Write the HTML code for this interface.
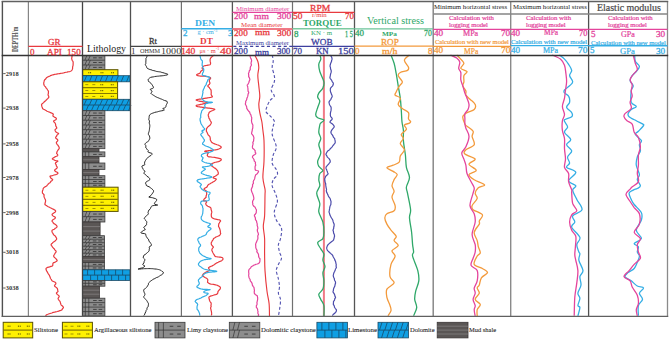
<!DOCTYPE html>
<html><head><meta charset="utf-8"><style>
html,body{margin:0;padding:0;background:#fff;}
svg{display:block;font-family:"Liberation Serif",serif;}
</style></head><body>
<svg width="669" height="340" viewBox="0 0 669 340" xmlns="http://www.w3.org/2000/svg">
<rect width="669" height="340" fill="#fff"/>
<rect x="82.6" y="55.5" width="22.30000000000001" height="14.200000000000003" fill="#8d8d8d" stroke="#3a3a3a" stroke-width="0.8"/>
<line x1="82.6" y1="60.2" x2="104.9" y2="60.2" stroke="#3a3a3a" stroke-width="0.8"/>
<line x1="82.6" y1="65.0" x2="104.9" y2="65.0" stroke="#3a3a3a" stroke-width="0.8"/>
<line x1="86.9" y1="55.5" x2="84.9" y2="60.2" stroke="#333" stroke-width="0.7"/>
<line x1="90.3" y1="55.5" x2="88.3" y2="60.2" stroke="#333" stroke-width="0.7"/>
<rect x="93.1" y="57.4" width="3.6" height="0.9" fill="#3a3a3a"/>
<rect x="98.6" y="57.4" width="3.6" height="0.9" fill="#3a3a3a"/>
<line x1="86.9" y1="60.2" x2="84.9" y2="65.0" stroke="#333" stroke-width="0.7"/>
<line x1="90.3" y1="60.2" x2="88.3" y2="65.0" stroke="#333" stroke-width="0.7"/>
<rect x="93.1" y="62.1" width="3.6" height="0.9" fill="#3a3a3a"/>
<rect x="98.6" y="62.1" width="3.6" height="0.9" fill="#3a3a3a"/>
<line x1="86.9" y1="65.0" x2="84.9" y2="69.7" stroke="#333" stroke-width="0.7"/>
<line x1="90.3" y1="65.0" x2="88.3" y2="69.7" stroke="#333" stroke-width="0.7"/>
<rect x="93.1" y="66.9" width="3.6" height="0.9" fill="#3a3a3a"/>
<rect x="98.6" y="66.9" width="3.6" height="0.9" fill="#3a3a3a"/>
<rect x="82.6" y="69.7" width="35.30000000000001" height="6.0" fill="#fff100" stroke="#5a5200" stroke-width="1.0"/>
<rect x="88.2" y="72.1" width="1.1" height="1.2" fill="#6b6200"/>
<rect x="90.0" y="72.1" width="1.1" height="1.2" fill="#6b6200"/>
<rect x="100.5" y="72.1" width="1.1" height="1.2" fill="#6b6200"/>
<rect x="102.3" y="72.1" width="1.1" height="1.2" fill="#6b6200"/>
<rect x="111.1" y="72.1" width="1.1" height="1.2" fill="#6b6200"/>
<rect x="112.9" y="72.1" width="1.1" height="1.2" fill="#6b6200"/>
<rect x="82.6" y="75.7" width="47.400000000000006" height="6.099999999999994" fill="#0f9fe3" stroke="#1a4a66" stroke-width="0.8"/>
<line x1="86.6" y1="75.7" x2="84.1" y2="81.8" stroke="#174a6a" stroke-width="0.8"/>
<line x1="91.9" y1="75.7" x2="89.4" y2="81.8" stroke="#174a6a" stroke-width="0.8"/>
<line x1="97.2" y1="75.7" x2="94.7" y2="81.8" stroke="#174a6a" stroke-width="0.8"/>
<line x1="102.5" y1="75.7" x2="100.0" y2="81.8" stroke="#174a6a" stroke-width="0.8"/>
<line x1="107.8" y1="75.7" x2="105.3" y2="81.8" stroke="#174a6a" stroke-width="0.8"/>
<line x1="113.1" y1="75.7" x2="110.6" y2="81.8" stroke="#174a6a" stroke-width="0.8"/>
<line x1="118.4" y1="75.7" x2="115.9" y2="81.8" stroke="#174a6a" stroke-width="0.8"/>
<line x1="123.7" y1="75.7" x2="121.2" y2="81.8" stroke="#174a6a" stroke-width="0.8"/>
<line x1="129.0" y1="75.7" x2="126.5" y2="81.8" stroke="#174a6a" stroke-width="0.8"/>
<rect x="82.6" y="81.8" width="35.0" height="17.5" fill="#fff100" stroke="#5a5200" stroke-width="1.0"/>
<line x1="82.6" y1="87.6" x2="117.6" y2="87.6" stroke="#857800" stroke-width="1.2"/>
<line x1="82.6" y1="93.5" x2="117.6" y2="93.5" stroke="#857800" stroke-width="1.2"/>
<rect x="85.3" y="84.3" width="3" height="0.8" fill="#8a7d00"/>
<rect x="92.3" y="84.3" width="3" height="0.8" fill="#8a7d00"/>
<rect x="100.3" y="84.1" width="1.1" height="1.2" fill="#6b6200"/>
<rect x="102.1" y="84.1" width="1.1" height="1.2" fill="#6b6200"/>
<rect x="110.8" y="84.1" width="1.1" height="1.2" fill="#6b6200"/>
<rect x="112.6" y="84.1" width="1.1" height="1.2" fill="#6b6200"/>
<rect x="85.3" y="90.1" width="3" height="0.8" fill="#8a7d00"/>
<rect x="92.3" y="90.1" width="3" height="0.8" fill="#8a7d00"/>
<rect x="100.3" y="90.0" width="1.1" height="1.2" fill="#6b6200"/>
<rect x="102.1" y="90.0" width="1.1" height="1.2" fill="#6b6200"/>
<rect x="110.8" y="90.0" width="1.1" height="1.2" fill="#6b6200"/>
<rect x="112.6" y="90.0" width="1.1" height="1.2" fill="#6b6200"/>
<rect x="85.3" y="96.0" width="3" height="0.8" fill="#8a7d00"/>
<rect x="92.3" y="96.0" width="3" height="0.8" fill="#8a7d00"/>
<rect x="100.3" y="95.8" width="1.1" height="1.2" fill="#6b6200"/>
<rect x="102.1" y="95.8" width="1.1" height="1.2" fill="#6b6200"/>
<rect x="110.8" y="95.8" width="1.1" height="1.2" fill="#6b6200"/>
<rect x="112.6" y="95.8" width="1.1" height="1.2" fill="#6b6200"/>
<rect x="82.6" y="99.3" width="47.400000000000006" height="11.400000000000006" fill="#0f9fe3" stroke="#1a4a66" stroke-width="0.8"/>
<line x1="82.6" y1="105.0" x2="130" y2="105.0" stroke="#1a4a66" stroke-width="0.8"/>
<line x1="86.6" y1="99.3" x2="84.1" y2="105.0" stroke="#174a6a" stroke-width="0.8"/>
<line x1="91.9" y1="99.3" x2="89.4" y2="105.0" stroke="#174a6a" stroke-width="0.8"/>
<line x1="97.2" y1="99.3" x2="94.7" y2="105.0" stroke="#174a6a" stroke-width="0.8"/>
<line x1="102.5" y1="99.3" x2="100.0" y2="105.0" stroke="#174a6a" stroke-width="0.8"/>
<line x1="107.8" y1="99.3" x2="105.3" y2="105.0" stroke="#174a6a" stroke-width="0.8"/>
<line x1="113.1" y1="99.3" x2="110.6" y2="105.0" stroke="#174a6a" stroke-width="0.8"/>
<line x1="118.4" y1="99.3" x2="115.9" y2="105.0" stroke="#174a6a" stroke-width="0.8"/>
<line x1="123.7" y1="99.3" x2="121.2" y2="105.0" stroke="#174a6a" stroke-width="0.8"/>
<line x1="129.0" y1="99.3" x2="126.5" y2="105.0" stroke="#174a6a" stroke-width="0.8"/>
<line x1="88.6" y1="105.0" x2="86.1" y2="110.7" stroke="#174a6a" stroke-width="0.8"/>
<line x1="93.9" y1="105.0" x2="91.4" y2="110.7" stroke="#174a6a" stroke-width="0.8"/>
<line x1="99.2" y1="105.0" x2="96.7" y2="110.7" stroke="#174a6a" stroke-width="0.8"/>
<line x1="104.5" y1="105.0" x2="102.0" y2="110.7" stroke="#174a6a" stroke-width="0.8"/>
<line x1="109.8" y1="105.0" x2="107.3" y2="110.7" stroke="#174a6a" stroke-width="0.8"/>
<line x1="115.1" y1="105.0" x2="112.6" y2="110.7" stroke="#174a6a" stroke-width="0.8"/>
<line x1="120.4" y1="105.0" x2="117.9" y2="110.7" stroke="#174a6a" stroke-width="0.8"/>
<line x1="125.7" y1="105.0" x2="123.2" y2="110.7" stroke="#174a6a" stroke-width="0.8"/>
<line x1="131.0" y1="105.0" x2="128.5" y2="110.7" stroke="#174a6a" stroke-width="0.8"/>
<rect x="82.6" y="110.7" width="22.30000000000001" height="37.999999999999986" fill="#8d8d8d" stroke="#3a3a3a" stroke-width="0.8"/>
<line x1="82.6" y1="115.5" x2="104.9" y2="115.5" stroke="#3a3a3a" stroke-width="0.8"/>
<line x1="82.6" y1="120.2" x2="104.9" y2="120.2" stroke="#3a3a3a" stroke-width="0.8"/>
<line x1="82.6" y1="125.0" x2="104.9" y2="125.0" stroke="#3a3a3a" stroke-width="0.8"/>
<line x1="82.6" y1="129.7" x2="104.9" y2="129.7" stroke="#3a3a3a" stroke-width="0.8"/>
<line x1="82.6" y1="134.4" x2="104.9" y2="134.4" stroke="#3a3a3a" stroke-width="0.8"/>
<line x1="82.6" y1="139.2" x2="104.9" y2="139.2" stroke="#3a3a3a" stroke-width="0.8"/>
<line x1="82.6" y1="143.9" x2="104.9" y2="143.9" stroke="#3a3a3a" stroke-width="0.8"/>
<line x1="86.9" y1="110.7" x2="84.9" y2="115.5" stroke="#333" stroke-width="0.7"/>
<line x1="90.3" y1="110.7" x2="88.3" y2="115.5" stroke="#333" stroke-width="0.7"/>
<rect x="93.1" y="112.6" width="3.6" height="0.9" fill="#3a3a3a"/>
<rect x="98.6" y="112.6" width="3.6" height="0.9" fill="#3a3a3a"/>
<line x1="86.9" y1="115.5" x2="84.9" y2="120.2" stroke="#333" stroke-width="0.7"/>
<line x1="90.3" y1="115.5" x2="88.3" y2="120.2" stroke="#333" stroke-width="0.7"/>
<rect x="93.1" y="117.4" width="3.6" height="0.9" fill="#3a3a3a"/>
<rect x="98.6" y="117.4" width="3.6" height="0.9" fill="#3a3a3a"/>
<line x1="86.9" y1="120.2" x2="84.9" y2="125.0" stroke="#333" stroke-width="0.7"/>
<line x1="90.3" y1="120.2" x2="88.3" y2="125.0" stroke="#333" stroke-width="0.7"/>
<rect x="93.1" y="122.1" width="3.6" height="0.9" fill="#3a3a3a"/>
<rect x="98.6" y="122.1" width="3.6" height="0.9" fill="#3a3a3a"/>
<line x1="86.9" y1="125.0" x2="84.9" y2="129.7" stroke="#333" stroke-width="0.7"/>
<line x1="90.3" y1="125.0" x2="88.3" y2="129.7" stroke="#333" stroke-width="0.7"/>
<rect x="93.1" y="126.9" width="3.6" height="0.9" fill="#3a3a3a"/>
<rect x="98.6" y="126.9" width="3.6" height="0.9" fill="#3a3a3a"/>
<line x1="86.9" y1="129.7" x2="84.9" y2="134.4" stroke="#333" stroke-width="0.7"/>
<line x1="90.3" y1="129.7" x2="88.3" y2="134.4" stroke="#333" stroke-width="0.7"/>
<rect x="93.1" y="131.6" width="3.6" height="0.9" fill="#3a3a3a"/>
<rect x="98.6" y="131.6" width="3.6" height="0.9" fill="#3a3a3a"/>
<line x1="86.9" y1="134.4" x2="84.9" y2="139.2" stroke="#333" stroke-width="0.7"/>
<line x1="90.3" y1="134.4" x2="88.3" y2="139.2" stroke="#333" stroke-width="0.7"/>
<rect x="93.1" y="136.4" width="3.6" height="0.9" fill="#3a3a3a"/>
<rect x="98.6" y="136.4" width="3.6" height="0.9" fill="#3a3a3a"/>
<line x1="86.9" y1="139.2" x2="84.9" y2="143.9" stroke="#333" stroke-width="0.7"/>
<line x1="90.3" y1="139.2" x2="88.3" y2="143.9" stroke="#333" stroke-width="0.7"/>
<rect x="93.1" y="141.1" width="3.6" height="0.9" fill="#3a3a3a"/>
<rect x="98.6" y="141.1" width="3.6" height="0.9" fill="#3a3a3a"/>
<line x1="86.9" y1="143.9" x2="84.9" y2="148.7" stroke="#333" stroke-width="0.7"/>
<line x1="90.3" y1="143.9" x2="88.3" y2="148.7" stroke="#333" stroke-width="0.7"/>
<rect x="93.1" y="145.9" width="3.6" height="0.9" fill="#3a3a3a"/>
<rect x="98.6" y="145.9" width="3.6" height="0.9" fill="#3a3a3a"/>
<rect x="82.6" y="148.7" width="16.400000000000006" height="3.200000000000017" fill="#5a5655" stroke="#3a3636" stroke-width="0.8"/>
<rect x="82.6" y="151.9" width="22.30000000000001" height="4.799999999999983" fill="#8d8d8d" stroke="#3a3a3a" stroke-width="0.8"/>
<line x1="85.3" y1="151.9" x2="85.3" y2="156.7" stroke="#333" stroke-width="0.7"/>
<line x1="88.8" y1="151.9" x2="88.8" y2="156.7" stroke="#333" stroke-width="0.7"/>
<rect x="93.1" y="153.9" width="3.6" height="0.9" fill="#3a3a3a"/>
<rect x="98.6" y="153.9" width="3.6" height="0.9" fill="#3a3a3a"/>
<rect x="82.6" y="156.7" width="16.400000000000006" height="6.300000000000011" fill="#5a5655" stroke="#3a3636" stroke-width="0.8"/>
<line x1="82.6" y1="159.8" x2="99" y2="159.8" stroke="#8a8686" stroke-width="0.7"/>
<rect x="82.6" y="163" width="22.30000000000001" height="6.400000000000006" fill="#8d8d8d" stroke="#3a3a3a" stroke-width="0.8"/>
<line x1="85.3" y1="163.0" x2="85.3" y2="169.4" stroke="#333" stroke-width="0.7"/>
<line x1="88.8" y1="163.0" x2="88.8" y2="169.4" stroke="#333" stroke-width="0.7"/>
<rect x="93.1" y="165.8" width="3.6" height="0.9" fill="#3a3a3a"/>
<rect x="98.6" y="165.8" width="3.6" height="0.9" fill="#3a3a3a"/>
<rect x="82.6" y="169.4" width="16.400000000000006" height="6.299999999999983" fill="#5a5655" stroke="#3a3636" stroke-width="0.8"/>
<line x1="82.6" y1="172.6" x2="99" y2="172.6" stroke="#8a8686" stroke-width="0.7"/>
<rect x="82.6" y="175.7" width="22.30000000000001" height="11.5" fill="#8d8d8d" stroke="#3a3a3a" stroke-width="0.8"/>
<line x1="82.6" y1="179.5" x2="104.9" y2="179.5" stroke="#3a3a3a" stroke-width="0.8"/>
<line x1="82.6" y1="183.4" x2="104.9" y2="183.4" stroke="#3a3a3a" stroke-width="0.8"/>
<line x1="85.3" y1="175.7" x2="85.3" y2="179.5" stroke="#333" stroke-width="0.7"/>
<line x1="88.8" y1="175.7" x2="88.8" y2="179.5" stroke="#333" stroke-width="0.7"/>
<rect x="93.1" y="177.2" width="3.6" height="0.9" fill="#3a3a3a"/>
<rect x="98.6" y="177.2" width="3.6" height="0.9" fill="#3a3a3a"/>
<line x1="85.3" y1="179.5" x2="85.3" y2="183.4" stroke="#333" stroke-width="0.7"/>
<line x1="88.8" y1="179.5" x2="88.8" y2="183.4" stroke="#333" stroke-width="0.7"/>
<rect x="93.1" y="181.0" width="3.6" height="0.9" fill="#3a3a3a"/>
<rect x="98.6" y="181.0" width="3.6" height="0.9" fill="#3a3a3a"/>
<line x1="85.3" y1="183.4" x2="85.3" y2="187.2" stroke="#333" stroke-width="0.7"/>
<line x1="88.8" y1="183.4" x2="88.8" y2="187.2" stroke="#333" stroke-width="0.7"/>
<rect x="93.1" y="184.8" width="3.6" height="0.9" fill="#3a3a3a"/>
<rect x="98.6" y="184.8" width="3.6" height="0.9" fill="#3a3a3a"/>
<rect x="82.6" y="187.2" width="35.5" height="24.200000000000017" fill="#fff100" stroke="#5a5200" stroke-width="1.0"/>
<line x1="82.6" y1="193.2" x2="118.1" y2="193.2" stroke="#857800" stroke-width="1.2"/>
<line x1="82.6" y1="199.3" x2="118.1" y2="199.3" stroke="#857800" stroke-width="1.2"/>
<line x1="82.6" y1="205.3" x2="118.1" y2="205.3" stroke="#857800" stroke-width="1.2"/>
<rect x="85.4" y="189.8" width="3" height="0.8" fill="#8a7d00"/>
<rect x="92.5" y="189.8" width="3" height="0.8" fill="#8a7d00"/>
<rect x="100.6" y="189.6" width="1.1" height="1.2" fill="#6b6200"/>
<rect x="102.4" y="189.6" width="1.1" height="1.2" fill="#6b6200"/>
<rect x="111.3" y="189.6" width="1.1" height="1.2" fill="#6b6200"/>
<rect x="113.1" y="189.6" width="1.1" height="1.2" fill="#6b6200"/>
<rect x="85.4" y="195.9" width="3" height="0.8" fill="#8a7d00"/>
<rect x="92.5" y="195.9" width="3" height="0.8" fill="#8a7d00"/>
<rect x="100.6" y="195.7" width="1.1" height="1.2" fill="#6b6200"/>
<rect x="102.4" y="195.7" width="1.1" height="1.2" fill="#6b6200"/>
<rect x="111.3" y="195.7" width="1.1" height="1.2" fill="#6b6200"/>
<rect x="113.1" y="195.7" width="1.1" height="1.2" fill="#6b6200"/>
<rect x="85.4" y="201.9" width="3" height="0.8" fill="#8a7d00"/>
<rect x="92.5" y="201.9" width="3" height="0.8" fill="#8a7d00"/>
<rect x="100.6" y="201.7" width="1.1" height="1.2" fill="#6b6200"/>
<rect x="102.4" y="201.7" width="1.1" height="1.2" fill="#6b6200"/>
<rect x="111.3" y="201.7" width="1.1" height="1.2" fill="#6b6200"/>
<rect x="113.1" y="201.7" width="1.1" height="1.2" fill="#6b6200"/>
<rect x="85.4" y="208.0" width="3" height="0.8" fill="#8a7d00"/>
<rect x="92.5" y="208.0" width="3" height="0.8" fill="#8a7d00"/>
<rect x="100.6" y="207.8" width="1.1" height="1.2" fill="#6b6200"/>
<rect x="102.4" y="207.8" width="1.1" height="1.2" fill="#6b6200"/>
<rect x="111.3" y="207.8" width="1.1" height="1.2" fill="#6b6200"/>
<rect x="113.1" y="207.8" width="1.1" height="1.2" fill="#6b6200"/>
<rect x="82.6" y="211.4" width="22.30000000000001" height="10.599999999999994" fill="#8d8d8d" stroke="#3a3a3a" stroke-width="0.8"/>
<line x1="82.6" y1="216.7" x2="104.9" y2="216.7" stroke="#3a3a3a" stroke-width="0.8"/>
<line x1="86.9" y1="211.4" x2="84.9" y2="216.7" stroke="#333" stroke-width="0.7"/>
<line x1="90.3" y1="211.4" x2="88.3" y2="216.7" stroke="#333" stroke-width="0.7"/>
<rect x="93.1" y="213.6" width="3.6" height="0.9" fill="#3a3a3a"/>
<rect x="98.6" y="213.6" width="3.6" height="0.9" fill="#3a3a3a"/>
<line x1="86.9" y1="216.7" x2="84.9" y2="222.0" stroke="#333" stroke-width="0.7"/>
<line x1="90.3" y1="216.7" x2="88.3" y2="222.0" stroke="#333" stroke-width="0.7"/>
<rect x="93.1" y="218.9" width="3.6" height="0.9" fill="#3a3a3a"/>
<rect x="98.6" y="218.9" width="3.6" height="0.9" fill="#3a3a3a"/>
<rect x="82.6" y="222" width="17.5" height="13.699999999999989" fill="#5a5655" stroke="#3a3636" stroke-width="0.8"/>
<line x1="82.6" y1="226.6" x2="100.1" y2="226.6" stroke="#8a8686" stroke-width="0.7"/>
<line x1="82.6" y1="231.1" x2="100.1" y2="231.1" stroke="#8a8686" stroke-width="0.7"/>
<rect x="82.6" y="235.7" width="21.900000000000006" height="21.0" fill="#8d8d8d" stroke="#3a3a3a" stroke-width="0.8"/>
<line x1="82.6" y1="239.2" x2="104.5" y2="239.2" stroke="#3a3a3a" stroke-width="0.8"/>
<line x1="82.6" y1="242.7" x2="104.5" y2="242.7" stroke="#3a3a3a" stroke-width="0.8"/>
<line x1="82.6" y1="246.2" x2="104.5" y2="246.2" stroke="#3a3a3a" stroke-width="0.8"/>
<line x1="82.6" y1="249.7" x2="104.5" y2="249.7" stroke="#3a3a3a" stroke-width="0.8"/>
<line x1="82.6" y1="253.2" x2="104.5" y2="253.2" stroke="#3a3a3a" stroke-width="0.8"/>
<line x1="86.9" y1="235.7" x2="84.9" y2="239.2" stroke="#333" stroke-width="0.7"/>
<line x1="90.2" y1="235.7" x2="88.2" y2="239.2" stroke="#333" stroke-width="0.7"/>
<rect x="92.8" y="237.0" width="3.6" height="0.9" fill="#3a3a3a"/>
<rect x="98.3" y="237.0" width="3.6" height="0.9" fill="#3a3a3a"/>
<line x1="86.9" y1="239.2" x2="84.9" y2="242.7" stroke="#333" stroke-width="0.7"/>
<line x1="90.2" y1="239.2" x2="88.2" y2="242.7" stroke="#333" stroke-width="0.7"/>
<rect x="92.8" y="240.5" width="3.6" height="0.9" fill="#3a3a3a"/>
<rect x="98.3" y="240.5" width="3.6" height="0.9" fill="#3a3a3a"/>
<line x1="86.9" y1="242.7" x2="84.9" y2="246.2" stroke="#333" stroke-width="0.7"/>
<line x1="90.2" y1="242.7" x2="88.2" y2="246.2" stroke="#333" stroke-width="0.7"/>
<rect x="92.8" y="244.0" width="3.6" height="0.9" fill="#3a3a3a"/>
<rect x="98.3" y="244.0" width="3.6" height="0.9" fill="#3a3a3a"/>
<line x1="86.9" y1="246.2" x2="84.9" y2="249.7" stroke="#333" stroke-width="0.7"/>
<line x1="90.2" y1="246.2" x2="88.2" y2="249.7" stroke="#333" stroke-width="0.7"/>
<rect x="92.8" y="247.5" width="3.6" height="0.9" fill="#3a3a3a"/>
<rect x="98.3" y="247.5" width="3.6" height="0.9" fill="#3a3a3a"/>
<line x1="86.9" y1="249.7" x2="84.9" y2="253.2" stroke="#333" stroke-width="0.7"/>
<line x1="90.2" y1="249.7" x2="88.2" y2="253.2" stroke="#333" stroke-width="0.7"/>
<rect x="92.8" y="251.0" width="3.6" height="0.9" fill="#3a3a3a"/>
<rect x="98.3" y="251.0" width="3.6" height="0.9" fill="#3a3a3a"/>
<line x1="86.9" y1="253.2" x2="84.9" y2="256.7" stroke="#333" stroke-width="0.7"/>
<line x1="90.2" y1="253.2" x2="88.2" y2="256.7" stroke="#333" stroke-width="0.7"/>
<rect x="92.8" y="254.5" width="3.6" height="0.9" fill="#3a3a3a"/>
<rect x="98.3" y="254.5" width="3.6" height="0.9" fill="#3a3a3a"/>
<rect x="82.6" y="256.7" width="21.900000000000006" height="5.800000000000011" fill="#5a5655" stroke="#3a3636" stroke-width="0.8"/>
<line x1="82.6" y1="259.6" x2="104.5" y2="259.6" stroke="#8a8686" stroke-width="0.7"/>
<rect x="82.6" y="262.5" width="21.900000000000006" height="7.300000000000011" fill="#8d8d8d" stroke="#3a3a3a" stroke-width="0.8"/>
<line x1="82.6" y1="266.1" x2="104.5" y2="266.1" stroke="#3a3a3a" stroke-width="0.8"/>
<line x1="85.2" y1="262.5" x2="85.2" y2="266.1" stroke="#333" stroke-width="0.7"/>
<line x1="88.7" y1="262.5" x2="88.7" y2="266.1" stroke="#333" stroke-width="0.7"/>
<rect x="92.8" y="263.9" width="3.6" height="0.9" fill="#3a3a3a"/>
<rect x="98.3" y="263.9" width="3.6" height="0.9" fill="#3a3a3a"/>
<line x1="85.2" y1="266.1" x2="85.2" y2="269.8" stroke="#333" stroke-width="0.7"/>
<line x1="88.7" y1="266.1" x2="88.7" y2="269.8" stroke="#333" stroke-width="0.7"/>
<rect x="92.8" y="267.5" width="3.6" height="0.9" fill="#3a3a3a"/>
<rect x="98.3" y="267.5" width="3.6" height="0.9" fill="#3a3a3a"/>
<rect x="82.6" y="269.8" width="47.400000000000006" height="10.599999999999966" fill="#0f9fe3" stroke="#1a4a66" stroke-width="0.8"/>
<line x1="82.6" y1="275.1" x2="130" y2="275.1" stroke="#1a4a66" stroke-width="0.8"/>
<line x1="87.6" y1="269.8" x2="87.6" y2="275.1" stroke="#174a6a" stroke-width="0.8"/>
<line x1="94.6" y1="269.8" x2="94.6" y2="275.1" stroke="#174a6a" stroke-width="0.8"/>
<line x1="101.6" y1="269.8" x2="101.6" y2="275.1" stroke="#174a6a" stroke-width="0.8"/>
<line x1="108.6" y1="269.8" x2="108.6" y2="275.1" stroke="#174a6a" stroke-width="0.8"/>
<line x1="115.6" y1="269.8" x2="115.6" y2="275.1" stroke="#174a6a" stroke-width="0.8"/>
<line x1="122.6" y1="269.8" x2="122.6" y2="275.1" stroke="#174a6a" stroke-width="0.8"/>
<line x1="90.6" y1="275.1" x2="90.6" y2="280.4" stroke="#174a6a" stroke-width="0.8"/>
<line x1="97.6" y1="275.1" x2="97.6" y2="280.4" stroke="#174a6a" stroke-width="0.8"/>
<line x1="104.6" y1="275.1" x2="104.6" y2="280.4" stroke="#174a6a" stroke-width="0.8"/>
<line x1="111.6" y1="275.1" x2="111.6" y2="280.4" stroke="#174a6a" stroke-width="0.8"/>
<line x1="118.6" y1="275.1" x2="118.6" y2="280.4" stroke="#174a6a" stroke-width="0.8"/>
<line x1="125.6" y1="275.1" x2="125.6" y2="280.4" stroke="#174a6a" stroke-width="0.8"/>
<rect x="82.6" y="280.4" width="22.30000000000001" height="5.800000000000011" fill="#8d8d8d" stroke="#3a3a3a" stroke-width="0.8"/>
<line x1="82.6" y1="283.3" x2="104.9" y2="283.3" stroke="#3a3a3a" stroke-width="0.8"/>
<line x1="85.3" y1="280.4" x2="85.3" y2="283.3" stroke="#333" stroke-width="0.7"/>
<line x1="88.8" y1="280.4" x2="88.8" y2="283.3" stroke="#333" stroke-width="0.7"/>
<rect x="93.1" y="281.4" width="3.6" height="0.9" fill="#3a3a3a"/>
<rect x="98.6" y="281.4" width="3.6" height="0.9" fill="#3a3a3a"/>
<line x1="85.3" y1="283.3" x2="85.3" y2="286.2" stroke="#333" stroke-width="0.7"/>
<line x1="88.8" y1="283.3" x2="88.8" y2="286.2" stroke="#333" stroke-width="0.7"/>
<rect x="93.1" y="284.3" width="3.6" height="0.9" fill="#3a3a3a"/>
<rect x="98.6" y="284.3" width="3.6" height="0.9" fill="#3a3a3a"/>
<rect x="82.6" y="286.2" width="16.900000000000006" height="12.0" fill="#5a5655" stroke="#3a3636" stroke-width="0.8"/>
<line x1="82.6" y1="290.2" x2="99.5" y2="290.2" stroke="#8a8686" stroke-width="0.7"/>
<line x1="82.6" y1="294.2" x2="99.5" y2="294.2" stroke="#8a8686" stroke-width="0.7"/>
<rect x="82.6" y="298.2" width="22.30000000000001" height="17.80000000000001" fill="#8d8d8d" stroke="#3a3a3a" stroke-width="0.8"/>
<line x1="82.6" y1="302.6" x2="104.9" y2="302.6" stroke="#3a3a3a" stroke-width="0.8"/>
<line x1="82.6" y1="307.1" x2="104.9" y2="307.1" stroke="#3a3a3a" stroke-width="0.8"/>
<line x1="82.6" y1="311.6" x2="104.9" y2="311.6" stroke="#3a3a3a" stroke-width="0.8"/>
<line x1="85.3" y1="298.2" x2="85.3" y2="302.6" stroke="#333" stroke-width="0.7"/>
<line x1="88.8" y1="298.2" x2="88.8" y2="302.6" stroke="#333" stroke-width="0.7"/>
<rect x="93.1" y="300.0" width="3.6" height="0.9" fill="#3a3a3a"/>
<rect x="98.6" y="300.0" width="3.6" height="0.9" fill="#3a3a3a"/>
<line x1="85.3" y1="302.6" x2="85.3" y2="307.1" stroke="#333" stroke-width="0.7"/>
<line x1="88.8" y1="302.6" x2="88.8" y2="307.1" stroke="#333" stroke-width="0.7"/>
<rect x="93.1" y="304.4" width="3.6" height="0.9" fill="#3a3a3a"/>
<rect x="98.6" y="304.4" width="3.6" height="0.9" fill="#3a3a3a"/>
<line x1="85.3" y1="307.1" x2="85.3" y2="311.6" stroke="#333" stroke-width="0.7"/>
<line x1="88.8" y1="307.1" x2="88.8" y2="311.6" stroke="#333" stroke-width="0.7"/>
<rect x="93.1" y="308.9" width="3.6" height="0.9" fill="#3a3a3a"/>
<rect x="98.6" y="308.9" width="3.6" height="0.9" fill="#3a3a3a"/>
<line x1="85.3" y1="311.6" x2="85.3" y2="316.0" stroke="#333" stroke-width="0.7"/>
<line x1="88.8" y1="311.6" x2="88.8" y2="316.0" stroke="#333" stroke-width="0.7"/>
<rect x="93.1" y="313.3" width="3.6" height="0.9" fill="#3a3a3a"/>
<rect x="98.6" y="313.3" width="3.6" height="0.9" fill="#3a3a3a"/>
<path d="M71.20,55.00 L71.31,55.49 L71.93,56.13 L72.10,56.89 L71.75,57.74 L71.69,58.65 L71.93,59.60 L72.27,60.56 L73.00,61.49 L73.16,62.38 L73.15,63.20 L73.14,64.07 L73.09,64.97 L72.97,65.86 L72.65,66.75 L72.58,67.60 L72.61,68.41 L72.41,69.16 L72.10,69.83 L71.71,70.40 L71.16,70.90 L70.54,71.27 L69.75,71.54 L68.70,71.74 L67.83,71.91 L67.08,72.07 L66.05,72.25 L64.90,72.50 L64.38,72.65 L63.82,72.80 L63.12,72.96 L62.47,73.11 L61.62,73.26 L60.70,73.41 L59.67,73.57 L58.49,73.73 L57.53,73.89 L56.58,74.06 L55.63,74.24 L54.69,74.42 L53.81,74.60 L52.93,74.80 L52.23,75.00 L51.28,75.32 L50.51,75.64 L49.94,75.98 L49.09,76.33 L48.25,76.69 L47.56,77.06 L46.95,77.45 L46.41,77.85 L46.15,78.27 L45.88,78.70 L45.08,79.46 L44.41,80.26 L44.12,81.09 L43.97,81.97 L43.76,82.87 L43.73,83.80 L43.85,84.52 L44.13,85.27 L44.78,86.03 L45.48,86.81 L45.92,87.60 L46.44,88.40 L47.19,89.20 L47.66,90.00 L48.24,90.83 L48.49,91.72 L48.38,92.63 L48.35,93.54 L48.06,94.41 L48.13,95.21 L48.56,95.92 L48.79,96.50 L48.75,97.51 L48.20,98.10 L47.68,98.65 L46.98,99.30 L46.32,99.99 L45.66,100.68 L44.91,101.30 L44.14,101.98 L43.48,102.62 L42.83,103.22 L42.08,103.80 L41.49,104.86 L41.78,105.90 L41.93,106.67 L42.30,107.48 L42.55,108.30 L42.73,108.80 L43.62,109.31 L44.76,109.82 L45.57,110.32 L46.41,110.80 L47.05,111.18 L47.85,111.55 L48.82,111.91 L49.73,112.25 L50.52,112.58 L51.22,112.90 L52.57,113.47 L53.17,113.98 L53.32,114.50 L52.96,115.35 L53.04,116.20 L53.69,116.60 L54.25,117.00 L54.98,117.40 L55.86,117.80 L56.40,118.65 L56.09,119.50 L55.42,120.02 L54.20,120.53 L53.56,121.10 L53.81,121.73 L54.45,122.41 L55.16,123.20 L55.60,124.18 L55.67,125.26 L55.87,126.20 L56.50,127.17 L56.82,128.00 L56.23,128.63 L55.46,129.27 L54.94,129.90 L55.22,130.80 L55.82,131.70 L56.25,132.31 L57.73,132.93 L58.60,133.60 L57.88,134.38 L56.85,135.22 L56.67,136.00 L55.91,136.94 L55.51,137.90 L56.46,138.69 L57.53,139.55 L57.83,140.40 L57.45,141.18 L56.63,141.95 L56.31,142.80 L56.58,143.54 L57.16,144.34 L57.85,145.15 L58.32,145.90 L58.87,146.76 L59.20,147.54 L59.21,148.40 L58.76,149.16 L58.06,149.99 L57.56,150.80 L57.13,151.50 L56.82,152.47 L56.58,153.30 L57.07,153.93 L57.61,154.57 L57.78,155.20 L57.59,155.56 L57.31,155.92 L56.41,156.28 L55.44,156.64 L54.79,157.00 L53.97,157.64 L52.75,158.29 L52.29,158.90 L53.00,159.46 L54.32,159.97 L54.81,160.40 L55.92,160.63 L57.50,160.76 L57.94,161.10 L57.40,161.57 L56.47,162.16 L55.57,162.85 L55.37,163.60 L55.89,164.27 L56.25,165.03 L56.28,165.81 L56.89,166.59 L57.29,167.30 L56.97,168.10 L56.33,168.84 L55.05,169.56 L54.54,170.30 L54.91,170.93 L55.73,171.59 L57.22,172.24 L57.94,172.86 L57.94,173.40 L57.43,173.87 L56.77,174.28 L55.80,174.65 L54.12,174.98 L53.24,175.30 L52.35,175.60 L51.04,175.82 L50.15,176.08 L49.94,176.50 L50.35,177.14 L50.72,177.93 L51.79,178.78 L52.74,179.60 L52.17,180.39 L50.93,181.19 L50.62,181.97 L50.06,182.70 L48.97,183.36 L48.27,183.96 L47.81,184.55 L47.22,185.20 L46.92,185.77 L46.05,186.36 L44.73,186.97 L43.97,187.59 L43.38,188.20 L43.09,188.95 L42.98,189.71 L42.65,190.48 L42.39,191.30 L42.39,192.15 L42.46,193.03 L43.30,193.97 L44.16,195.00 L43.95,195.77 L44.02,196.60 L44.32,197.46 L44.68,198.34 L45.20,199.19 L45.47,200.00 L45.63,200.92 L45.43,201.81 L45.23,202.68 L45.02,203.51 L44.83,204.30 L45.17,204.83 L45.92,205.34 L46.77,205.82 L47.40,206.29 L48.23,206.75 L49.41,207.22 L50.31,207.70 L51.35,208.19 L52.27,208.67 L53.18,209.16 L54.16,209.64 L54.96,210.13 L55.44,210.61 L55.66,211.10 L55.51,211.67 L54.98,212.23 L54.15,212.80 L53.16,213.37 L52.42,213.93 L52.03,214.50 L52.22,215.07 L52.72,215.63 L53.43,216.19 L54.56,216.76 L55.29,217.33 L55.39,217.90 L54.96,218.46 L54.22,219.00 L53.20,219.54 L52.53,220.11 L52.10,220.72 L52.09,221.40 L52.54,221.90 L53.10,222.44 L53.28,223.01 L53.92,223.60 L55.11,224.20 L55.87,224.80 L56.39,225.39 L56.85,225.96 L57.07,226.50 L56.92,227.08 L56.28,227.65 L55.29,228.21 L54.82,228.76 L54.30,229.29 L52.98,229.81 L52.16,230.31 L51.92,230.80 L52.01,231.69 L52.33,232.50 L52.90,233.31 L53.27,234.20 L53.83,234.89 L54.92,235.63 L55.50,236.41 L55.92,237.17 L56.40,237.88 L56.66,238.50 L56.55,239.43 L55.88,240.17 L55.04,241.00 L54.42,241.51 L53.54,242.06 L52.80,242.64 L52.32,243.23 L51.57,243.82 L51.11,244.40 L51.23,245.27 L51.95,246.15 L52.57,247.03 L53.24,247.90 L53.81,248.48 L54.45,249.06 L54.62,249.64 L55.13,250.21 L55.79,250.76 L56.14,251.30 L55.99,252.07 L55.37,252.81 L54.89,253.51 L54.59,254.20 L54.08,255.02 L53.65,255.79 L53.82,256.70 L54.33,257.26 L55.02,257.88 L55.82,258.54 L56.29,259.20 L56.83,259.83 L57.16,260.40 L56.91,261.00 L56.19,261.55 L55.24,262.07 L53.87,262.58 L53.11,263.10 L52.79,264.03 L52.86,264.97 L52.60,265.80 L51.98,266.10 L51.01,266.38 L50.17,266.63 L49.71,266.87 L48.75,267.10 L47.66,267.35 L47.03,267.60 L46.01,268.44 L46.04,269.50 L46.26,270.11 L46.62,270.82 L47.08,271.58 L47.53,272.35 L47.92,273.10 L48.32,273.82 L48.88,274.54 L49.30,275.25 L49.62,275.97 L49.96,276.70 L50.21,277.45 L50.44,278.22 L50.91,278.99 L51.46,279.72 L51.77,280.40 L52.21,281.00 L53.48,281.55 L54.68,282.07 L55.48,282.58 L55.96,283.10 L55.69,284.00 L54.92,284.90 L54.48,285.80 L54.92,286.47 L55.79,287.14 L56.69,287.82 L57.38,288.50 L57.56,289.46 L57.76,290.44 L58.04,291.30 L57.56,291.94 L56.78,292.47 L56.40,293.10 L56.63,293.71 L57.36,294.39 L58.17,295.10 L58.92,295.80 L59.25,296.66 L58.54,297.53 L58.07,298.50 L58.32,299.18 L58.74,299.91 L59.31,300.68 L60.01,301.45 L60.32,302.20 L60.48,302.96 L60.74,303.73 L60.89,304.49 L61.37,305.20 L62.14,305.80 L62.93,306.50 L63.26,306.99 L63.44,307.60 L62.97,308.25 L62.31,309.00 L62.04,309.75 L60.82,310.40 L59.91,310.67 L59.22,310.91 L58.58,311.13 L57.85,311.33 L57.37,311.53 L56.56,311.74 L55.56,311.96 L54.56,312.20 L53.32,312.44 L52.43,312.70 L51.86,312.97 L51.00,313.24 L50.09,313.52 L49.26,313.79 L48.53,314.05 L47.81,314.29 L47.11,314.50 L45.95,315.29 L45.50,315.80" fill="none" stroke="#e83a3f" stroke-width="1.2" stroke-linejoin="round"/>
<path d="M147.20,55.00 L146.95,55.64 L146.92,56.58 L146.51,57.60 L145.95,58.40 L145.96,59.26 L145.98,60.14 L145.85,61.00 L145.87,61.88 L145.82,62.78 L145.80,63.62 L145.33,64.30 L145.44,65.03 L145.83,65.60 L146.47,66.60 L146.76,67.60 L147.21,68.25 L148.61,68.90 L148.74,69.16 L149.76,69.44 L150.82,69.74 L151.94,70.06 L152.41,70.36 L153.80,70.64 L154.93,70.90 L155.69,71.09 L155.82,71.26 L156.45,71.41 L157.28,71.55 L158.53,71.69 L159.60,71.84 L160.70,72.01 L161.06,72.20 L161.80,72.42 L162.77,72.67 L163.93,72.93 L164.60,73.20 L165.72,73.47 L166.66,73.73 L167.38,73.98 L167.76,74.20 L167.78,74.58 L167.05,74.92 L165.66,75.22 L164.23,75.50 L163.56,75.61 L162.94,75.70 L162.13,75.79 L161.07,75.88 L159.87,75.96 L159.38,76.04 L158.67,76.13 L157.55,76.21 L156.78,76.30 L155.92,76.40 L154.59,76.56 L154.28,76.72 L153.25,76.88 L152.07,77.06 L150.92,77.26 L150.39,77.50 L149.70,77.94 L149.09,78.44 L148.49,78.98 L148.20,79.50 L148.29,80.50 L148.56,81.50 L149.43,81.99 L150.12,82.46 L150.74,82.96 L151.03,83.50 L151.75,84.34 L152.36,85.26 L152.88,86.10 L153.42,87.18 L153.22,88.10 L152.49,88.56 L151.06,88.94 L150.16,89.40 L150.89,90.36 L152.18,91.40 L151.46,92.44 L150.89,93.40 L151.55,94.09 L152.59,94.70 L153.53,95.31 L154.64,96.00 L155.05,96.36 L155.80,96.75 L156.66,97.17 L157.59,97.59 L158.76,98.00 L159.39,98.29 L160.00,98.57 L160.70,98.86 L161.54,99.14 L162.36,99.43 L162.72,99.71 L163.33,100.00 L164.52,100.47 L166.04,100.92 L167.07,101.41 L167.40,102.00 L167.32,102.75 L166.99,103.61 L166.52,104.49 L166.12,105.30 L166.01,106.04 L165.85,106.76 L165.46,107.40 L164.78,107.90 L163.30,108.33 L162.72,108.60 L163.63,109.21 L164.35,109.90 L164.10,110.12 L163.59,110.33 L163.06,110.55 L161.76,110.77 L160.69,110.98 L159.70,111.20 L158.71,111.42 L158.05,111.63 L157.41,111.84 L156.40,112.06 L154.82,112.28 L154.65,112.50 L153.89,112.76 L153.05,113.02 L152.30,113.29 L151.51,113.58 L150.84,113.90 L150.20,114.40 L149.71,114.97 L149.22,115.90 L149.16,116.58 L149.11,117.39 L148.99,118.29 L148.70,119.24 L149.14,120.19 L149.52,121.10 L149.36,121.99 L149.20,122.91 L149.43,123.83 L149.75,124.73 L149.84,125.59 L149.81,126.40 L149.70,127.29 L149.56,128.13 L149.50,128.91 L149.40,129.67 L149.31,130.40 L149.12,131.27 L148.87,132.09 L148.58,132.89 L148.35,133.70 L148.41,134.50 L149.06,135.29 L149.46,136.10 L149.69,137.00 L149.82,137.82 L149.73,138.72 L149.27,139.65 L148.73,140.53 L148.20,141.30 L147.55,141.96 L146.27,142.53 L145.66,143.05 L145.27,143.54 L144.83,144.00 L145.06,144.69 L145.52,145.29 L146.12,145.90 L145.73,146.85 L145.87,147.90 L146.58,148.56 L146.94,149.29 L147.61,150.01 L148.44,150.60 L148.16,151.29 L147.79,151.90 L148.26,152.19 L148.91,152.49 L150.02,152.82 L151.31,153.16 L152.05,153.52 L152.20,153.90 L152.00,154.39 L151.46,154.93 L150.93,155.47 L149.97,156.01 L149.14,156.50 L148.26,157.19 L147.77,157.80 L146.95,158.50 L146.21,159.11 L145.98,159.77 L145.51,160.47 L145.10,161.20 L144.70,162.01 L144.58,162.89 L144.60,163.75 L144.98,164.50 L144.14,165.08 L143.06,165.54 L142.06,165.99 L141.88,166.50 L142.16,167.34 L142.84,168.26 L142.72,169.10 L143.46,169.81 L144.36,170.46 L144.95,171.10 L144.70,172.10 L143.60,173.10 L144.48,173.77 L145.30,174.44 L146.02,175.10 L146.58,175.71 L146.96,176.31 L148.19,177.00 L148.96,177.62 L149.55,178.31 L149.84,179.02 L149.79,179.70 L149.13,180.20 L148.63,180.69 L147.38,181.17 L146.52,181.66 L145.93,182.20 L145.50,183.21 L146.09,184.28 L146.16,185.30 L146.91,185.85 L147.98,186.37 L149.33,186.88 L150.12,187.38 L150.41,187.90 L151.49,188.54 L152.35,189.16 L152.68,189.83 L153.59,190.60 L153.59,191.34 L153.27,192.17 L152.65,193.04 L152.13,193.87 L151.62,194.60 L150.70,195.39 L150.59,196.11 L149.02,196.72 L148.88,197.20 L149.68,197.44 L150.69,197.55 L151.79,197.62 L152.43,197.71 L153.03,197.90 L154.13,198.26 L155.62,198.70 L156.53,199.24 L156.75,199.90 L156.51,200.60 L155.83,201.45 L155.05,202.34 L154.50,203.16 L154.32,203.80 L154.86,204.32 L156.53,204.65 L157.40,204.88 L157.71,205.10 L157.17,205.24 L156.23,205.33 L155.09,205.41 L154.51,205.49 L153.11,205.62 L152.39,205.80 L151.55,206.30 L150.87,206.94 L150.82,207.80 L150.47,208.48 L150.01,209.29 L148.78,210.15 L148.52,211.01 L148.24,211.80 L148.03,212.67 L148.36,213.49 L148.04,214.29 L147.43,215.10 L146.43,215.79 L145.53,216.52 L145.06,217.22 L144.54,217.87 L144.24,218.40 L144.65,219.08 L145.34,219.70 L145.68,220.52 L146.65,221.51 L146.79,222.50 L146.58,223.46 L146.61,224.43 L146.18,225.30 L144.97,226.03 L144.60,226.66 L143.68,227.30 L144.35,228.22 L145.31,229.30 L145.18,229.72 L143.87,230.21 L143.20,230.73 L142.44,231.26 L141.54,231.77 L141.14,232.22 L140.92,232.60 L141.05,232.97 L141.82,233.20 L143.03,233.38 L144.31,233.58 L145.57,233.90 L145.79,234.70 L145.96,235.66 L146.34,236.60 L146.83,237.25 L146.90,237.90 L147.75,238.55 L148.49,239.20 L148.66,240.07 L149.03,240.95 L149.47,241.90 L150.18,242.72 L151.12,243.60 L151.40,244.46 L151.51,245.20 L150.97,245.88 L149.68,246.41 L149.29,247.10 L149.28,247.86 L149.47,248.76 L149.19,249.67 L149.18,250.50 L148.92,251.22 L148.16,251.89 L147.49,252.51 L146.80,253.10 L146.17,253.64 L145.80,254.14 L144.75,254.61 L144.03,255.10 L143.64,256.06 L143.16,257.10 L143.39,257.90 L144.31,258.76 L144.90,259.70 L144.90,260.52 L143.99,261.41 L143.99,262.28 L144.05,263.00 L142.95,263.87 L142.71,264.60 L143.54,265.29 L144.92,266.04 L144.27,266.80 L143.79,267.10 L143.13,267.43 L142.83,267.77 L141.21,268.11 L139.84,268.43 L138.89,268.71 L138.25,268.94 L137.99,269.10 L138.14,269.18 L138.67,269.17 L139.67,269.10 L140.81,268.99 L141.35,268.86 L143.24,268.76 L143.81,268.70 L144.78,268.68 L145.93,268.66 L146.74,268.63 L147.32,268.61 L147.94,268.60 L148.83,268.59 L149.94,268.60 L150.72,268.62 L151.41,268.65 L152.71,268.70 L153.31,268.77 L153.91,268.86 L154.77,268.97 L156.34,269.09 L157.28,269.22 L157.55,269.37 L158.48,269.53 L159.27,269.71 L159.79,269.90 L160.66,270.29 L161.40,270.74 L161.88,271.22 L162.79,271.75 L163.41,272.30 L163.30,273.06 L162.77,273.90 L161.75,274.74 L160.23,275.50 L159.64,275.95 L159.15,276.36 L158.53,276.75 L157.89,277.13 L156.64,277.51 L155.93,277.90 L155.11,278.37 L154.24,278.83 L153.07,279.29 L152.47,279.78 L151.79,280.30 L150.91,280.87 L150.18,281.48 L149.46,282.12 L148.81,282.76 L148.47,283.40 L148.44,284.19 L148.30,284.99 L147.53,285.80 L147.21,286.60 L146.65,287.23 L145.91,287.85 L145.41,288.47 L144.30,289.12 L143.77,289.80 L143.66,290.74 L143.98,291.75 L144.34,292.76 L144.84,293.70 L144.91,294.57 L144.64,295.39 L143.94,296.17 L143.71,296.90 L144.03,297.70 L144.74,298.41 L145.56,299.30 L146.07,299.88 L146.69,300.52 L147.10,301.21 L147.54,301.91 L147.90,302.62 L148.39,303.30 L148.49,304.26 L148.28,305.20 L148.36,306.16 L147.48,307.20 L147.16,307.96 L146.89,308.78 L146.88,309.62 L146.11,310.46 L145.96,311.26 L145.76,312.00 L145.02,313.07 L144.90,314.10 L144.17,314.98 L143.90,315.60" fill="none" stroke="#222" stroke-width="1.0" stroke-linejoin="round"/>
<path d="M214.50,55.00 L214.00,55.33 L213.04,55.79 L212.42,56.36 L211.62,57.00 L210.98,57.72 L210.41,58.52 L210.12,59.40 L210.11,60.30 L210.15,61.10 L210.33,61.99 L210.58,62.88 L210.56,63.68 L210.33,64.30 L209.93,64.76 L209.13,64.99 L208.03,65.13 L207.01,65.30 L206.18,65.47 L205.29,65.61 L204.47,65.77 L203.95,65.95 L203.45,66.20 L202.41,67.17 L202.08,68.20 L202.81,68.91 L203.11,69.60 L202.60,70.05 L201.91,70.55 L201.23,71.05 L200.69,71.50 L200.43,72.19 L200.08,72.90 L199.33,73.38 L198.22,73.92 L196.82,74.46 L196.56,74.90 L196.97,75.33 L197.99,75.64 L199.30,75.90 L199.85,75.98 L200.54,76.04 L201.55,76.08 L202.33,76.12 L203.25,76.17 L204.56,76.22 L205.37,76.30 L206.08,76.40 L206.88,76.57 L207.69,76.77 L208.80,76.99 L209.70,77.23 L210.17,77.50 L210.56,77.80 L210.62,78.46 L209.92,79.22 L209.35,80.10 L209.30,80.89 L209.55,81.78 L209.87,82.68 L209.95,83.50 L209.46,84.22 L208.68,84.89 L208.00,85.51 L207.78,86.10 L208.31,86.79 L209.24,87.41 L209.63,88.10 L210.16,88.87 L210.85,89.71 L211.19,90.70 L211.14,91.45 L211.24,92.30 L211.20,93.19 L211.14,94.02 L211.13,94.70 L211.95,95.80 L212.40,96.50 L212.21,96.93 L211.09,97.30 L210.63,97.41 L209.92,97.53 L209.12,97.65 L208.51,97.78 L207.57,97.91 L206.55,98.05 L205.68,98.19 L204.96,98.33 L204.06,98.46 L203.09,98.60 L202.32,98.75 L201.48,98.91 L200.39,99.06 L199.06,99.22 L198.08,99.38 L197.31,99.54 L196.67,99.69 L196.36,99.85 L196.15,100.00 L196.29,100.27 L196.97,100.53 L197.93,100.78 L199.26,101.04 L200.41,101.30 L201.29,101.46 L202.29,101.62 L203.13,101.79 L204.55,101.95 L205.63,102.11 L206.50,102.27 L207.14,102.44 L207.46,102.60 L207.35,102.86 L206.66,103.11 L205.80,103.36 L204.18,103.62 L203.04,103.90 L202.44,104.07 L201.92,104.24 L200.88,104.43 L199.76,104.62 L198.78,104.81 L198.11,104.99 L197.16,105.17 L196.51,105.34 L196.15,105.50 L196.27,106.09 L197.74,106.60 L198.30,106.73 L199.08,106.84 L199.86,106.96 L200.54,107.07 L201.52,107.19 L202.63,107.31 L203.82,107.45 L204.50,107.60 L205.12,107.71 L205.94,107.82 L206.92,107.93 L208.00,108.05 L209.35,108.17 L210.27,108.29 L211.15,108.42 L212.03,108.56 L212.74,108.71 L213.54,108.86 L214.39,109.03 L214.79,109.20 L214.72,109.59 L213.88,110.02 L212.74,110.49 L211.47,110.97 L210.38,111.44 L209.67,111.90 L209.04,112.72 L208.78,113.53 L208.29,114.50 L208.24,115.21 L208.31,116.00 L208.70,116.83 L208.86,117.68 L209.10,118.50 L209.86,119.32 L209.93,120.17 L210.48,121.00 L211.03,121.79 L211.35,122.50 L211.08,123.47 L210.61,124.28 L210.16,125.10 L209.27,125.75 L208.38,126.41 L207.67,127.08 L207.11,127.80 L206.56,128.58 L206.48,129.41 L206.41,130.26 L206.35,131.10 L206.85,131.96 L207.25,132.83 L207.64,133.67 L207.90,134.40 L208.35,135.14 L209.09,135.74 L209.75,136.40 L210.07,137.26 L210.23,138.19 L210.33,139.00 L210.21,139.79 L210.59,140.60 L211.10,141.21 L211.31,141.93 L212.02,142.65 L213.34,143.30 L214.07,143.62 L214.65,143.92 L215.64,144.21 L216.49,144.48 L217.05,144.75 L218.03,145.02 L218.72,145.30 L219.56,145.80 L220.47,146.31 L221.04,146.81 L221.25,147.30 L221.00,147.80 L220.33,148.31 L219.31,148.79 L218.30,149.20 L217.69,149.39 L217.26,149.55 L216.50,149.69 L215.62,149.82 L214.71,149.94 L213.47,150.07 L212.49,150.20 L211.74,150.31 L210.82,150.41 L209.66,150.52 L208.64,150.62 L207.49,150.73 L206.47,150.84 L205.69,150.95 L205.07,151.07 L204.71,151.20 L204.82,151.45 L205.45,151.71 L206.94,151.98 L208.13,152.28 L208.70,152.60 L207.80,153.51 L207.48,154.50 L207.25,155.55 L208.00,156.50 L208.39,156.66 L208.96,156.80 L210.29,156.91 L211.01,157.02 L212.02,157.13 L213.35,157.23 L214.18,157.34 L214.78,157.46 L215.56,157.60 L216.77,157.83 L218.08,158.08 L219.07,158.34 L220.06,158.62 L220.82,158.90 L221.35,159.20 L221.04,160.22 L219.50,161.20 L219.16,161.45 L218.45,161.66 L217.03,161.85 L216.52,162.04 L215.25,162.25 L214.39,162.50 L213.71,162.86 L212.69,163.25 L211.83,163.67 L211.02,164.09 L210.53,164.50 L210.84,165.17 L211.65,165.84 L212.39,166.50 L213.21,166.96 L213.74,167.41 L214.37,167.87 L215.33,168.40 L216.00,169.02 L216.65,169.71 L217.25,170.41 L217.82,171.10 L218.05,172.00 L218.31,172.88 L218.25,173.70 L218.07,174.24 L217.39,174.74 L216.56,175.21 L216.01,175.70 L215.11,176.21 L214.06,176.73 L213.22,177.24 L213.07,177.70 L213.65,178.11 L214.94,178.49 L215.89,178.85 L216.36,179.20 L215.80,179.85 L215.20,180.50 L214.50,181.17 L212.95,182.00 L212.48,182.38 L211.72,182.81 L210.76,183.27 L210.09,183.74 L209.06,184.19 L208.38,184.60 L207.63,185.59 L207.23,186.60 L206.85,187.12 L205.66,187.70 L204.70,188.29 L204.05,188.84 L203.89,189.30 L204.80,189.96 L206.00,190.60 L206.25,191.32 L206.40,192.18 L206.67,193.20 L206.69,193.92 L206.61,194.73 L206.21,195.58 L206.03,196.42 L206.13,197.20 L205.30,197.95 L204.54,198.70 L203.92,199.40 L203.59,200.02 L203.30,200.50 L203.65,200.81 L204.86,200.89 L205.74,200.95 L206.33,201.20 L206.70,201.95 L206.04,202.91 L205.70,203.80 L206.12,204.84 L207.18,205.80 L207.83,206.25 L208.86,206.68 L209.94,207.16 L210.70,207.80 L211.04,208.48 L211.03,209.29 L211.30,210.15 L211.59,211.01 L211.81,211.80 L211.73,212.67 L211.46,213.49 L211.33,214.29 L211.26,215.10 L211.36,215.96 L211.46,216.83 L212.11,217.67 L213.33,218.40 L213.99,218.68 L214.53,218.92 L215.63,219.14 L216.73,219.35 L217.75,219.54 L218.51,219.74 L219.37,219.94 L220.04,220.16 L220.47,220.40 L220.58,221.21 L219.76,222.08 L219.32,223.00 L218.74,223.89 L218.70,224.81 L218.46,226.00 L218.59,226.65 L219.14,227.39 L219.46,228.18 L219.78,229.01 L220.03,229.82 L220.23,230.60 L220.35,231.30 L220.33,232.40 L220.71,233.41 L220.32,234.34 L219.80,235.20 L219.36,235.65 L218.37,236.06 L217.45,236.45 L216.54,236.81 L215.70,237.17 L215.22,237.53 L214.62,237.90 L213.56,238.54 L213.40,239.16 L213.05,239.80 L212.43,240.50 L212.06,241.28 L211.60,242.11 L211.19,242.96 L211.26,243.80 L211.45,244.64 L212.02,245.49 L212.84,246.32 L213.46,247.10 L212.77,248.00 L212.12,248.83 L211.83,249.80 L211.89,250.54 L212.27,251.37 L212.68,252.24 L213.10,253.07 L213.51,253.80 L214.29,254.82 L214.48,255.68 L215.29,256.40 L215.87,256.59 L216.65,256.75 L217.58,256.88 L218.63,256.99 L219.18,257.10 L220.31,257.21 L221.23,257.34 L221.90,257.50 L222.41,257.70 L223.02,258.50 L222.90,259.46 L221.96,260.40 L221.49,260.78 L220.84,261.15 L219.57,261.53 L218.87,261.90 L218.12,262.27 L217.31,262.63 L216.64,263.00 L215.80,263.51 L215.06,264.02 L214.52,264.52 L213.70,265.01 L212.82,265.50 L212.37,265.89 L211.22,266.28 L210.28,266.66 L209.50,267.04 L208.95,267.42 L208.51,267.80 L208.73,268.57 L209.48,269.33 L209.75,270.10 L209.32,270.47 L208.66,270.84 L207.88,271.20 L207.08,271.57 L206.35,271.97 L205.54,272.40 L204.54,272.99 L203.63,273.66 L202.95,274.34 L202.63,274.97 L202.30,275.50 L202.42,276.09 L203.41,276.50 L204.28,277.00 L205.01,277.48 L205.98,278.01 L207.00,278.60 L207.70,279.30 L207.84,280.18 L207.61,281.20 L207.51,282.22 L208.57,283.10 L209.02,283.37 L209.61,283.61 L210.19,283.84 L211.04,284.05 L212.11,284.25 L213.54,284.44 L214.54,284.63 L215.46,284.81 L216.26,285.00 L216.92,285.20 L217.45,285.40 L218.60,285.96 L219.59,286.50 L220.20,287.07 L220.43,287.70 L220.37,288.42 L219.95,289.21 L219.13,290.01 L218.47,290.80 L217.88,291.86 L217.82,292.91 L217.36,293.80 L216.82,294.14 L216.36,294.41 L215.55,294.64 L214.31,294.85 L213.78,295.06 L213.05,295.30 L212.12,295.58 L211.13,295.83 L210.43,296.10 L209.79,296.44 L209.03,296.90 L208.87,297.71 L209.16,298.71 L209.34,299.75 L209.66,300.70 L210.01,301.49 L210.50,302.21 L211.06,302.94 L211.20,303.80 L211.13,304.62 L210.91,305.53 L211.18,306.48 L210.70,307.42 L210.57,308.30 L210.93,309.33 L211.07,310.32 L211.36,311.27 L211.51,312.20 L211.59,313.16 L211.72,314.14 L211.42,315.00 L211.40,315.60" fill="none" stroke="#e83a3f" stroke-width="1.2" stroke-linejoin="round"/>
<path d="M199.90,55.00 L199.97,55.57 L200.21,56.38 L200.37,57.31 L200.60,58.23 L200.85,59.00 L201.22,59.75 L201.91,60.38 L202.38,60.98 L202.33,61.60 L202.41,62.50 L202.21,63.40 L202.16,64.30 L202.11,65.17 L202.45,66.03 L202.74,66.90 L202.84,67.80 L203.57,68.70 L203.77,69.60 L203.73,70.47 L203.53,71.33 L203.24,72.20 L202.63,73.14 L202.28,74.10 L202.43,74.90 L202.99,75.32 L203.96,75.64 L205.17,75.91 L206.06,76.20 L206.61,76.44 L207.74,76.66 L208.78,76.89 L209.26,77.16 L209.79,77.50 L209.86,78.04 L209.15,78.67 L208.25,79.36 L207.61,80.10 L207.70,80.90 L207.19,81.76 L206.70,82.64 L206.33,83.50 L206.30,84.33 L205.80,85.16 L205.18,85.98 L204.48,86.80 L204.44,87.62 L203.95,88.45 L203.52,89.27 L203.31,90.10 L202.90,90.93 L202.78,91.76 L203.00,92.59 L202.76,93.40 L202.56,94.51 L202.35,95.59 L202.10,96.50 L201.67,97.32 L201.79,98.00 L202.24,98.99 L203.00,100.00 L203.61,100.45 L204.31,100.87 L205.23,101.27 L206.42,101.60 L207.38,101.76 L208.09,101.88 L209.50,101.99 L210.56,102.09 L211.43,102.19 L212.10,102.29 L212.40,102.40 L212.22,102.53 L211.66,102.66 L210.38,102.79 L209.08,102.94 L208.03,103.10 L207.25,103.30 L205.95,103.81 L205.01,104.41 L204.88,105.00 L204.70,105.78 L205.04,106.60 L204.87,107.57 L204.02,108.60 L202.95,109.22 L202.61,109.84 L201.93,110.60 L201.56,111.33 L201.50,112.17 L201.18,113.04 L200.91,113.90 L200.77,114.73 L200.68,115.55 L200.64,116.38 L200.87,117.20 L200.35,118.03 L200.02,118.85 L200.09,119.68 L200.13,120.50 L200.33,121.33 L200.65,122.15 L200.73,122.97 L201.11,123.80 L201.60,124.66 L202.21,125.53 L202.89,126.37 L203.11,127.10 L203.76,127.86 L204.61,128.48 L204.77,129.10 L204.30,129.62 L203.47,130.14 L202.17,130.65 L201.73,131.10 L202.81,131.75 L203.02,132.40 L202.52,132.85 L201.81,133.36 L201.13,133.88 L200.73,134.40 L201.19,135.41 L201.90,136.40 L202.77,137.28 L203.22,138.20 L203.68,138.92 L204.27,139.70 L204.46,140.60 L204.02,141.41 L203.23,142.33 L202.60,143.23 L202.60,144.00 L203.15,144.58 L204.13,145.04 L204.70,145.45 L205.64,145.90 L206.48,146.23 L207.70,146.56 L208.30,146.89 L209.05,147.23 L209.77,147.57 L210.36,147.90 L211.35,148.42 L212.27,148.94 L213.00,149.45 L213.31,149.90 L213.28,150.59 L212.46,151.20 L211.89,151.43 L211.03,151.66 L210.48,151.90 L209.82,152.14 L208.48,152.37 L207.82,152.60 L207.07,152.81 L206.22,153.01 L204.83,153.21 L204.19,153.42 L203.46,153.64 L202.87,153.90 L201.80,154.51 L201.40,155.21 L201.36,155.90 L201.56,156.54 L202.56,157.19 L203.11,157.90 L202.66,158.74 L202.37,159.66 L201.83,160.50 L202.11,161.06 L202.77,161.58 L203.80,162.06 L204.86,162.50 L205.52,162.72 L206.44,162.92 L207.21,163.11 L208.05,163.28 L209.00,163.45 L209.95,163.62 L210.60,163.80 L212.13,164.44 L212.40,165.10 L211.98,165.30 L211.20,165.52 L210.17,165.73 L209.27,165.95 L208.57,166.16 L207.60,166.34 L206.73,166.50 L205.28,166.67 L203.99,166.76 L202.97,166.87 L202.43,167.10 L202.67,167.50 L203.66,168.01 L204.83,168.57 L205.37,169.10 L205.09,169.60 L204.29,170.10 L203.22,170.60 L202.75,171.10 L201.99,171.77 L201.32,172.43 L201.32,173.10 L201.73,173.43 L202.37,173.77 L203.23,174.11 L204.08,174.44 L204.92,174.77 L206.02,175.10 L206.68,175.38 L207.80,175.66 L209.06,175.95 L210.18,176.23 L211.03,176.50 L211.47,176.76 L211.68,177.00 L211.54,177.23 L211.25,177.44 L210.40,177.64 L209.28,177.83 L208.11,178.02 L206.67,178.21 L205.92,178.40 L205.08,178.53 L204.20,178.66 L203.52,178.78 L202.50,178.90 L201.63,179.03 L200.85,179.15 L199.92,179.28 L199.19,179.41 L198.59,179.55 L197.98,179.70 L196.96,180.60 L197.39,181.50 L198.29,182.15 L199.48,182.80 L199.98,183.36 L200.94,183.97 L201.41,184.60 L200.76,185.54 L200.02,186.60 L200.39,187.24 L200.89,187.96 L201.49,188.66 L201.92,189.30 L202.62,189.84 L203.34,190.33 L204.06,190.78 L205.40,191.20 L206.21,191.44 L207.08,191.63 L207.83,191.81 L208.84,192.01 L209.58,192.26 L210.03,192.60 L210.06,193.27 L209.55,194.09 L208.65,194.98 L208.65,195.90 L208.67,196.70 L208.85,197.59 L209.16,198.48 L209.24,199.28 L209.16,199.90 L208.68,200.48 L207.80,200.73 L206.62,200.90 L205.74,200.98 L204.77,200.99 L203.33,200.99 L202.41,201.04 L201.71,201.20 L200.83,202.01 L200.65,203.20 L200.74,203.92 L201.53,204.73 L202.21,205.60 L202.58,206.50 L202.61,207.43 L203.04,208.41 L203.03,209.40 L202.98,210.40 L202.91,211.19 L202.86,211.99 L202.78,212.80 L202.68,213.60 L202.42,214.40 L202.13,215.22 L201.74,216.07 L201.28,216.90 L201.17,217.69 L201.18,218.40 L201.35,219.17 L201.85,219.84 L202.55,220.45 L203.25,221.00 L203.82,221.40 L204.58,221.76 L205.80,222.09 L206.23,222.40 L206.97,222.70 L208.15,223.02 L209.13,223.29 L210.05,223.59 L210.42,224.00 L209.91,224.57 L209.32,225.26 L208.27,225.96 L207.79,226.60 L208.21,227.11 L209.69,227.56 L210.53,228.02 L211.05,228.60 L210.94,229.08 L210.27,229.63 L209.42,230.21 L208.67,230.80 L208.07,231.37 L207.42,231.90 L206.74,232.87 L206.41,233.77 L206.09,234.60 L205.39,235.05 L204.54,235.46 L203.55,235.84 L202.53,236.22 L201.86,236.60 L201.08,236.96 L200.13,237.30 L199.43,237.64 L198.68,238.03 L198.16,238.50 L197.80,239.25 L197.86,240.11 L198.19,241.02 L198.83,241.90 L198.84,242.73 L199.52,243.56 L200.24,244.38 L200.64,245.20 L200.39,246.03 L199.53,246.85 L198.96,247.68 L198.71,248.50 L198.77,249.32 L198.69,250.15 L198.86,250.98 L199.26,251.80 L199.53,252.47 L199.92,253.15 L200.45,253.83 L201.36,254.48 L202.05,255.10 L202.46,255.52 L203.46,255.94 L204.32,256.34 L205.12,256.73 L205.77,257.09 L206.43,257.41 L207.08,257.70 L208.54,258.02 L209.40,258.26 L210.38,258.45 L211.03,258.62 L211.12,258.80 L210.77,258.91 L210.23,259.01 L209.71,259.10 L208.48,259.19 L207.32,259.29 L206.28,259.40 L205.37,259.54 L204.38,259.70 L203.66,259.96 L202.80,260.26 L201.88,260.59 L201.03,260.94 L200.46,261.31 L200.07,261.70 L199.31,262.58 L198.49,263.53 L198.44,264.40 L198.83,265.32 L199.88,266.30 L200.65,266.69 L201.19,267.13 L201.77,267.61 L202.22,268.09 L203.05,268.57 L204.01,269.01 L205.26,269.40 L206.27,269.57 L206.81,269.74 L207.65,269.90 L208.78,270.05 L209.76,270.20 L210.94,270.34 L211.98,270.48 L213.07,270.60 L213.95,270.73 L214.57,270.85 L215.62,270.97 L216.29,271.08 L216.59,271.19 L216.73,271.30 L216.63,271.44 L216.20,271.56 L215.58,271.68 L214.56,271.78 L213.40,271.88 L212.25,271.97 L211.14,272.07 L209.99,272.17 L208.97,272.28 L208.38,272.40 L207.32,272.65 L206.42,272.89 L205.49,273.17 L204.89,273.49 L204.35,273.90 L203.78,274.42 L203.28,275.02 L202.92,275.68 L202.33,276.35 L201.66,277.00 L200.84,277.61 L199.80,278.21 L199.40,278.81 L198.89,279.44 L198.36,280.10 L198.42,281.02 L198.84,282.01 L199.24,282.99 L199.28,283.90 L198.66,284.72 L198.00,285.49 L197.03,286.22 L196.83,286.90 L197.17,287.28 L197.74,287.66 L198.70,288.03 L199.35,288.38 L200.12,288.70 L201.14,288.98 L202.39,289.20 L202.94,289.32 L203.85,289.40 L205.24,289.44 L206.25,289.46 L207.15,289.47 L208.05,289.48 L208.92,289.49 L209.72,289.53 L210.07,289.60 L209.90,289.78 L209.04,290.01 L207.30,290.26 L206.21,290.53 L205.33,290.80 L203.98,291.53 L203.71,292.30 L204.34,292.57 L205.48,292.82 L207.00,293.08 L208.08,293.40 L208.18,293.80 L207.82,294.15 L207.35,294.55 L206.69,294.98 L206.14,295.44 L205.14,295.92 L204.08,296.41 L202.86,296.90 L202.05,297.25 L201.60,297.62 L200.84,297.99 L199.95,298.37 L198.99,298.76 L197.96,299.15 L196.80,299.54 L196.26,299.93 L195.98,300.32 L195.46,300.70 L195.09,301.46 L195.76,302.22 L196.67,302.98 L197.40,303.74 L197.71,304.50 L197.35,305.45 L197.10,306.39 L196.99,307.34 L197.08,308.30 L196.99,309.08 L197.68,309.88 L198.27,310.67 L198.73,311.45 L199.00,312.20 L199.52,313.16 L199.59,314.14 L199.81,315.00 L199.90,315.60" fill="none" stroke="#35aee5" stroke-width="1.2" stroke-linejoin="round"/>
<path d="M249.50,55.00 L249.68,55.48 L249.97,56.11 L250.27,56.87 L250.48,57.71 L250.97,58.60 L251.35,59.50 L251.60,60.38 L251.55,61.20 L251.20,62.09 L251.11,62.97 L251.01,63.86 L251.49,64.74 L251.22,65.63 L250.59,66.51 L250.34,67.40 L250.13,68.18 L250.40,68.95 L250.18,69.73 L249.44,70.51 L249.18,71.28 L249.16,72.06 L248.81,72.83 L248.48,73.60 L248.58,74.48 L248.76,75.35 L248.60,76.22 L248.89,77.08 L249.47,77.95 L249.75,78.82 L249.86,79.70 L249.50,80.47 L249.18,81.24 L249.04,82.02 L248.73,82.79 L248.34,83.57 L247.82,84.35 L247.20,85.12 L247.38,85.90 L247.77,86.78 L247.80,87.64 L247.94,88.50 L247.95,89.37 L248.04,90.26 L248.03,91.16 L248.67,92.10 L248.73,92.87 L248.25,93.67 L248.02,94.50 L247.93,95.34 L247.73,96.18 L247.51,97.01 L247.11,97.82 L246.83,98.58 L246.78,99.30 L246.39,100.27 L245.73,101.14 L245.70,101.96 L245.68,102.77 L245.36,103.60 L245.42,104.50 L245.96,105.23 L246.31,105.98 L246.64,106.75 L246.72,107.54 L246.76,108.33 L247.26,109.13 L247.74,109.92 L248.21,110.70 L248.98,111.48 L249.80,112.28 L249.84,113.07 L250.22,113.87 L250.79,114.66 L251.02,115.43 L251.16,116.18 L251.51,116.90 L251.77,117.82 L251.70,118.71 L251.61,119.58 L251.49,120.41 L251.52,121.21 L251.68,122.00 L251.85,122.87 L252.11,123.65 L252.60,124.42 L252.90,125.25 L252.80,126.20 L252.79,126.98 L252.80,127.83 L252.54,128.72 L252.29,129.64 L252.20,130.57 L251.97,131.50 L251.77,132.40 L251.61,133.16 L251.63,133.90 L252.38,134.64 L252.97,135.37 L253.38,136.13 L253.70,136.91 L253.88,137.73 L253.89,138.60 L253.68,139.35 L253.65,140.14 L253.61,140.98 L253.12,141.83 L252.78,142.70 L253.10,143.57 L252.96,144.42 L252.67,145.26 L252.51,146.05 L252.39,146.80 L252.49,147.69 L252.85,148.54 L254.02,149.36 L254.69,150.16 L255.29,150.92 L255.11,151.64 L255.21,152.34 L255.76,153.00 L255.75,153.78 L254.87,154.44 L253.98,155.05 L253.05,155.66 L252.57,156.32 L252.42,157.10 L252.82,157.77 L253.31,158.50 L253.84,159.27 L254.16,160.07 L254.11,160.88 L255.03,161.70 L255.50,162.51 L255.30,163.30 L255.52,164.22 L255.78,165.19 L255.18,166.18 L255.03,167.14 L255.11,168.03 L255.06,168.83 L255.18,169.50 L255.47,170.13 L256.45,170.50 L257.92,170.74 L258.28,171.03 L258.59,171.50 L258.37,172.05 L257.84,172.66 L257.60,173.34 L256.88,174.07 L255.77,174.86 L255.36,175.70 L255.11,176.38 L254.97,177.11 L254.78,177.88 L254.68,178.68 L254.30,179.49 L253.75,180.31 L253.45,181.12 L253.15,181.90 L253.44,182.69 L253.36,183.50 L252.63,184.32 L252.46,185.14 L252.65,185.93 L252.39,186.68 L252.15,187.38 L251.85,188.00 L251.26,189.17 L251.32,190.02 L251.59,191.20 L251.79,191.83 L252.10,192.54 L252.48,193.31 L252.78,194.11 L253.07,194.94 L253.33,195.78 L253.55,196.60 L253.72,197.40 L253.83,198.28 L253.82,199.14 L253.24,200.00 L252.82,200.87 L252.54,201.76 L252.56,202.66 L252.81,203.60 L252.75,204.29 L252.93,205.01 L253.44,205.75 L254.12,206.51 L255.18,207.27 L255.46,208.02 L255.78,208.76 L256.23,209.48 L256.50,210.16 L256.35,210.80 L256.27,211.76 L256.24,212.61 L255.84,213.41 L255.34,214.20 L254.45,215.01 L254.42,215.90 L254.85,216.61 L255.06,217.32 L255.33,218.05 L255.43,218.80 L255.40,219.57 L256.06,220.38 L256.59,221.22 L256.69,222.10 L256.85,222.85 L257.15,223.63 L257.23,224.44 L257.12,225.27 L257.39,226.12 L257.69,226.99 L257.81,227.85 L257.83,228.71 L257.34,229.56 L257.33,230.40 L257.41,231.23 L257.73,232.08 L258.12,232.93 L258.34,233.78 L258.42,234.63 L257.88,235.47 L257.77,236.29 L257.89,237.09 L257.88,237.86 L257.88,238.60 L257.61,239.48 L257.17,240.31 L256.88,241.12 L256.55,241.89 L256.18,242.64 L255.87,243.37 L255.69,244.09 L255.59,244.80 L255.75,245.71 L255.77,246.57 L255.74,247.40 L256.01,248.23 L256.32,249.09 L256.91,250.00 L257.08,250.73 L256.78,251.48 L257.12,252.25 L257.80,253.04 L258.19,253.83 L258.56,254.63 L258.56,255.42 L258.61,256.20 L258.82,257.10 L259.36,258.03 L260.08,258.97 L259.92,259.89 L259.94,260.78 L259.84,261.62 L259.59,262.40 L259.30,262.84 L258.80,263.24 L258.28,263.61 L257.23,263.96 L256.01,264.29 L255.28,264.61 L254.42,264.94 L253.55,265.29 L253.05,265.66 L252.51,266.06 L251.66,266.50 L250.93,267.16 L250.68,267.86 L249.91,268.58 L249.08,269.34 L248.84,270.14 L248.65,270.96 L248.71,271.81 L248.72,272.70 L248.87,273.45 L248.82,274.24 L248.67,275.08 L248.75,275.93 L248.89,276.80 L249.08,277.67 L249.47,278.52 L250.07,279.36 L250.19,280.15 L250.29,280.90 L251.09,281.77 L251.64,282.59 L252.08,283.37 L252.25,284.12 L252.26,284.86 L252.70,285.60 L253.10,286.34 L253.75,287.10 L254.12,288.00 L254.14,288.93 L254.33,289.87 L254.48,290.79 L254.22,291.68 L254.26,292.52 L254.34,293.30 L254.84,294.06 L255.53,294.67 L256.48,295.22 L257.28,295.80 L257.38,296.50 L257.59,297.40 L257.68,298.05 L257.66,298.76 L257.60,299.52 L257.45,300.32 L257.26,301.16 L257.06,302.03 L256.87,302.93 L257.12,303.84 L256.96,304.77 L256.36,305.70 L256.34,306.45 L256.33,307.28 L257.02,308.15 L257.51,309.06 L257.61,309.98 L257.82,310.91 L258.05,311.82 L257.82,312.70 L257.90,313.52 L258.43,314.29 L258.65,314.96 L258.32,315.54 L258.40,316.00" fill="none" stroke="#e4449c" stroke-width="1.2" stroke-linejoin="round"/>
<path d="M254.7,55.0 C255.2,56.0 257.1,59.1 257.8,61.2 C258.5,63.3 258.8,65.0 258.8,67.4 C258.8,69.8 257.8,72.5 257.8,75.6 C257.8,78.7 258.5,82.5 258.8,85.9 C259.1,89.3 259.8,93.1 259.8,96.2 C259.8,99.3 258.8,101.8 258.8,104.5 C258.8,107.2 259.3,109.8 259.8,112.7 C260.3,115.6 261.4,119.1 261.9,122.0 C262.4,124.9 262.5,127.2 262.9,130.3 C263.2,133.4 263.8,135.4 264.0,140.6 C264.2,145.8 264.2,155.0 264.0,161.2 C263.8,167.4 262.7,173.0 262.9,177.7 C263.1,182.3 264.6,186.2 265.0,189.1 C265.4,192.0 265.1,190.8 265.0,195.3 C264.9,199.8 264.9,210.8 264.6,215.9 C264.3,221.1 263.3,222.4 263.3,226.2 C263.3,230.0 264.4,233.9 264.6,238.6 C264.8,243.2 264.5,248.8 264.6,254.1 C264.7,259.4 264.6,264.4 265.0,270.6 C265.4,276.8 266.3,285.7 267.0,291.2 C267.7,296.7 268.7,299.5 269.1,303.6 C269.5,307.7 269.4,313.9 269.5,316.0" fill="none" stroke="#e83a3f" stroke-width="1.15" stroke-linejoin="round"/>
<path d="M272.2,55.0 C272.4,56.0 273.2,59.1 273.2,61.2 C273.2,63.3 272.0,65.0 272.2,67.4 C272.4,69.8 273.9,73.2 274.3,75.6 C274.7,78.0 274.8,79.4 274.3,81.8 C273.8,84.2 271.2,87.6 271.2,90.0 C271.2,92.4 274.5,94.5 274.3,96.2 C274.1,97.9 271.3,98.7 270.1,100.4 C268.9,102.1 267.7,104.6 267.0,106.5 C266.3,108.4 265.5,110.2 266.0,111.7 C266.5,113.2 268.7,114.2 270.1,115.8 C271.5,117.3 273.8,119.3 274.3,121.0 C274.8,122.7 273.6,124.0 273.2,126.2 C272.8,128.4 271.7,131.0 272.2,134.4 C272.7,137.8 276.1,143.4 276.3,146.8 C276.5,150.2 273.9,152.2 273.2,155.0 C272.5,157.8 271.7,160.9 272.2,163.3 C272.7,165.7 275.4,167.6 276.3,169.5 C277.2,171.4 277.9,172.9 277.4,174.6 C276.9,176.3 274.1,177.9 273.2,179.8 C272.3,181.7 271.8,183.8 272.2,186.0 C272.6,188.2 274.4,190.6 275.3,193.2 C276.2,195.8 277.6,198.4 277.4,201.5 C277.2,204.6 274.5,208.7 274.3,211.8 C274.1,214.9 275.1,217.2 276.3,220.0 C277.5,222.8 280.8,225.2 281.5,228.3 C282.2,231.4 281.0,235.8 280.5,238.6 C280.0,241.3 278.6,242.6 278.4,244.8 C278.2,247.0 279.0,249.8 279.5,252.0 C280.0,254.2 281.7,256.1 281.5,258.2 C281.3,260.3 279.3,262.3 278.4,264.4 C277.5,266.5 276.3,268.2 276.3,270.6 C276.3,273.0 277.9,276.1 278.4,278.9 C278.9,281.6 279.5,284.7 279.5,287.1 C279.5,289.5 278.2,291.2 278.4,293.3 C278.6,295.4 280.3,296.8 280.5,299.5 C280.7,302.2 279.9,307.1 279.5,309.8 C279.1,312.6 278.6,315.0 278.4,316.0" fill="none" stroke="#5555b2" stroke-width="1.15" stroke-linejoin="round" stroke-dasharray="3,2.1"/>
<line x1="323.9" y1="55.5" x2="323.9" y2="316" stroke="#f07a86" stroke-width="2"/>
<path d="M319.8,55.0 C320.0,55.7 321.0,57.6 320.8,59.1 C320.6,60.6 319.0,62.2 318.8,64.3 C318.6,66.4 319.0,68.6 319.8,71.5 C320.6,74.4 323.4,79.0 323.9,81.8 C324.4,84.5 323.8,86.1 322.9,88.0 C322.0,89.9 319.7,91.6 318.8,93.1 C317.9,94.6 317.5,95.8 317.7,97.2 C317.9,98.6 319.8,99.6 319.8,101.3 C319.8,103.0 318.4,105.3 317.7,107.5 C317.0,109.7 315.7,113.0 315.7,114.7 C315.7,116.4 316.3,116.9 317.7,117.8 C319.1,118.7 323.4,119.0 323.9,119.9 C324.4,120.8 321.5,122.2 320.8,123.0 C320.1,123.8 320.1,123.4 319.8,125.0 C319.5,126.6 318.6,130.2 318.8,132.4 C319.0,134.7 320.8,136.4 320.8,138.5 C320.8,140.6 318.8,142.3 318.8,144.7 C318.8,147.1 321.0,150.2 320.8,153.0 C320.6,155.8 318.0,159.0 317.7,161.2 C317.4,163.4 317.9,164.8 318.8,166.3 C319.7,167.9 322.7,169.3 322.9,170.5 C323.1,171.7 320.5,172.1 319.8,173.6 C319.1,175.1 318.8,177.6 318.8,179.7 C318.8,181.8 320.2,183.7 319.8,185.9 C319.4,188.2 316.7,190.3 316.7,193.2 C316.7,196.1 319.4,200.4 319.8,203.5 C320.2,206.6 318.3,208.7 318.8,211.8 C319.3,214.9 322.0,218.7 322.9,222.1 C323.8,225.5 323.9,229.7 323.9,232.4 C323.9,235.2 323.9,236.9 322.9,238.6 C321.9,240.3 318.0,241.0 317.7,242.7 C317.4,244.4 319.8,247.0 320.8,248.9 C321.8,250.8 323.5,252.2 323.9,254.1 C324.2,256.0 322.7,258.2 322.9,260.3 C323.1,262.4 325.0,264.4 325.0,266.5 C325.0,268.6 323.1,270.3 322.9,272.7 C322.7,275.1 323.9,278.2 323.9,280.9 C323.9,283.6 323.8,286.9 322.9,289.1 C322.0,291.3 319.1,292.6 318.8,294.3 C318.5,296.0 320.0,297.5 320.8,299.4 C321.6,301.3 323.4,302.9 323.9,305.6 C324.4,308.4 323.9,314.2 323.9,315.9" fill="none" stroke="#2fa869" stroke-width="1.3" stroke-linejoin="round"/>
<path d="M330.10,55.00 L330.45,55.52 L331.18,56.24 L331.59,57.11 L331.95,58.08 L332.05,59.10 L331.88,59.77 L331.60,60.50 L331.56,61.27 L331.30,62.07 L330.84,62.88 L330.55,63.70 L330.40,64.51 L330.14,65.30 L330.03,66.19 L330.33,67.07 L330.52,67.96 L330.52,68.84 L330.90,69.73 L331.21,70.61 L331.25,71.50 L331.12,72.39 L330.79,73.27 L330.58,74.16 L330.37,75.05 L330.24,75.94 L330.08,76.82 L329.92,77.70 L330.24,78.47 L330.76,79.23 L331.37,79.99 L331.91,80.75 L332.18,81.51 L332.77,82.27 L333.26,83.03 L333.34,83.80 L333.19,84.57 L332.92,85.34 L332.43,86.12 L331.63,86.89 L330.98,87.67 L330.42,88.45 L330.37,89.22 L330.28,90.00 L330.33,90.78 L330.53,91.55 L330.72,92.33 L331.03,93.10 L331.32,93.88 L331.71,94.65 L331.98,95.42 L332.21,96.20 L332.09,96.98 L331.58,97.75 L331.17,98.53 L330.93,99.30 L330.24,100.08 L329.67,100.85 L329.13,101.63 L328.98,102.40 L329.20,103.18 L329.35,103.95 L329.53,104.73 L330.05,105.51 L330.61,106.28 L330.94,107.06 L331.19,107.83 L331.16,108.60 L331.11,109.49 L331.03,110.41 L330.82,111.32 L330.59,112.22 L330.42,113.10 L330.31,113.93 L330.38,114.70 L330.38,115.68 L330.66,116.57 L331.42,117.39 L331.99,118.16 L332.26,118.90 L331.77,119.73 L330.95,120.45 L330.34,121.17 L329.97,122.00 L330.18,122.52 L331.04,123.06 L332.02,123.62 L332.65,124.20 L333.27,124.82 L333.71,125.49 L334.17,126.20 L334.20,126.87 L333.74,127.56 L333.13,128.29 L332.47,129.05 L331.93,129.84 L331.52,130.66 L331.01,131.52 L330.89,132.40 L331.05,133.08 L331.41,133.80 L332.11,134.55 L332.58,135.32 L333.04,136.10 L333.26,136.90 L333.83,137.68 L334.65,138.45 L334.81,139.20 L334.88,139.92 L335.10,140.60 L335.19,141.46 L335.24,142.27 L335.04,143.03 L334.50,143.76 L333.94,144.49 L333.25,145.23 L332.69,145.99 L332.13,146.80 L331.65,147.42 L331.02,148.05 L330.23,148.69 L329.85,149.34 L329.23,150.01 L328.04,150.67 L327.48,151.34 L326.99,152.01 L326.64,152.68 L326.32,153.34 L326.00,154.00 L325.98,154.72 L326.48,155.46 L326.98,156.19 L327.17,156.93 L327.96,157.66 L328.84,158.39 L329.39,159.11 L329.85,159.82 L330.09,160.52 L330.23,161.20 L330.19,161.93 L329.80,162.64 L329.09,163.34 L328.59,164.02 L328.05,164.70 L327.40,165.37 L326.80,166.04 L326.25,166.72 L326.00,167.40 L325.98,168.19 L326.22,169.00 L326.65,169.82 L326.94,170.63 L327.27,171.43 L327.48,172.20 L327.78,172.93 L328.09,173.60 L327.84,174.36 L327.11,174.97 L326.46,175.53 L325.88,176.11 L325.43,176.80 L325.13,177.70 L324.84,178.36 L324.74,179.09 L324.74,179.89 L324.83,180.73 L325.02,181.60 L325.29,182.49 L325.63,183.38 L325.70,184.25 L325.79,185.10 L325.86,185.90 L325.97,186.75 L326.13,187.56 L326.28,188.36 L326.53,189.15 L326.44,189.94 L326.29,190.73 L326.47,191.53 L326.70,192.35 L327.15,193.20 L327.50,193.91 L327.74,194.62 L328.10,195.34 L328.40,196.06 L328.90,196.79 L329.46,197.54 L329.91,198.29 L330.31,199.07 L330.50,199.86 L330.76,200.67 L331.02,201.50 L331.04,202.22 L330.94,202.95 L330.88,203.70 L330.87,204.46 L330.53,205.22 L330.07,206.01 L329.90,206.80 L329.73,207.60 L329.63,208.42 L329.48,209.25 L329.33,210.09 L329.20,210.94 L329.03,211.80 L329.21,212.52 L329.50,213.28 L329.68,214.07 L329.91,214.88 L330.30,215.70 L330.71,216.53 L331.16,217.37 L331.68,218.21 L332.19,219.03 L332.67,219.85 L332.97,220.64 L333.07,221.41 L333.32,222.14 L333.51,222.84 L333.84,223.50 L334.15,224.10 L334.16,225.29 L334.03,226.25 L333.81,227.07 L333.67,227.82 L333.67,228.55 L333.28,229.36 L332.98,230.30 L333.26,231.05 L333.51,231.86 L333.53,232.70 L333.80,233.57 L334.28,234.46 L334.46,235.34 L334.56,236.21 L334.28,237.05 L334.13,237.85 L334.00,238.60 L333.73,239.31 L333.57,239.99 L332.89,240.65 L332.06,241.29 L331.20,241.91 L330.47,242.50 L329.87,243.08 L329.20,243.64 L328.62,244.18 L328.07,244.70 L327.41,245.68 L327.06,246.57 L326.79,247.39 L326.69,248.16 L326.85,248.90 L327.15,249.73 L327.49,250.45 L328.12,251.17 L329.08,252.00 L329.56,252.49 L330.14,252.94 L330.62,253.40 L331.15,253.92 L332.02,254.52 L332.64,255.27 L332.96,256.20 L333.25,256.80 L333.56,257.47 L334.05,258.20 L334.52,258.99 L334.76,259.81 L335.08,260.67 L335.58,261.54 L335.77,262.41 L335.92,263.29 L336.14,264.14 L336.25,264.97 L336.09,265.76 L336.14,266.50 L336.40,267.40 L336.00,268.27 L335.41,269.11 L335.25,269.93 L334.91,270.72 L334.60,271.51 L334.19,272.30 L333.83,273.09 L333.57,273.89 L333.42,274.70 L333.24,275.53 L333.35,276.36 L333.69,277.19 L334.01,278.02 L334.36,278.85 L334.42,279.68 L334.65,280.51 L335.28,281.34 L335.50,282.17 L335.55,283.00 L335.36,283.83 L335.05,284.68 L334.95,285.53 L334.70,286.38 L334.23,287.23 L333.87,288.07 L333.52,288.89 L333.44,289.69 L333.38,290.46 L333.08,291.20 L333.06,292.07 L333.64,292.89 L334.07,293.67 L334.53,294.43 L334.77,295.16 L334.85,295.90 L335.26,296.64 L335.56,297.40 L335.21,298.17 L334.70,298.93 L334.64,299.68 L334.38,300.44 L333.71,301.20 L333.41,301.98 L333.50,302.78 L333.37,303.60 L333.32,304.37 L333.79,305.18 L334.34,306.02 L334.39,306.87 L334.86,307.72 L335.37,308.55 L336.09,309.35 L336.42,310.10 L336.41,310.80 L336.13,311.64 L335.56,312.46 L334.65,313.24 L333.79,313.95 L333.09,314.57 L332.63,315.10 L332.20,315.50" fill="none" stroke="#4b4bab" stroke-width="1.2" stroke-linejoin="round"/>
<path d="M391.0,55.0 C391.5,56.4 393.2,60.1 394.1,63.2 C395.0,66.3 395.5,69.7 396.2,73.5 C396.9,77.3 397.5,81.7 398.2,85.8 C398.9,89.9 399.8,94.1 400.3,98.2 C400.8,102.3 401.0,106.5 401.3,110.5 C401.6,114.5 401.6,118.7 402.0,122.0 C402.4,125.3 403.2,127.2 403.4,130.3 C403.6,133.4 403.1,136.5 403.4,140.6 C403.7,144.7 404.9,150.6 405.4,155.0 C405.9,159.4 405.7,163.5 406.4,167.3 C407.1,171.1 409.5,174.3 409.5,177.6 C409.5,180.9 406.7,184.4 406.4,187.0 C406.1,189.6 406.8,189.4 407.5,193.2 C408.2,197.0 410.3,205.6 410.6,209.7 C410.9,213.8 409.3,214.1 409.5,217.9 C409.7,221.7 411.1,227.9 411.6,232.3 C412.1,236.8 412.3,241.3 412.6,244.6 C412.9,247.9 413.6,250.1 413.6,252.0 C413.6,253.9 411.9,253.1 412.6,256.2 C413.3,259.3 416.8,266.5 417.8,270.6 C418.8,274.7 419.2,277.4 418.8,280.8 C418.4,284.2 416.4,288.0 415.7,291.1 C415.0,294.2 414.5,296.6 414.7,299.4 C414.9,302.1 416.9,304.9 416.7,307.6 C416.5,310.3 414.1,314.4 413.6,315.8" fill="none" stroke="#2fa869" stroke-width="1.3" stroke-linejoin="round"/>
<path d="M409.5,55.0 C408.6,55.9 404.6,58.1 404.4,60.1 C404.2,62.1 408.0,65.6 408.5,67.3 C409.0,69.0 408.9,69.5 407.5,70.4 C406.1,71.3 401.9,71.6 400.3,72.5 C398.8,73.4 397.9,74.1 398.2,75.6 C398.5,77.1 401.9,80.2 402.3,81.7 C402.7,83.2 401.0,83.8 400.3,84.8 C399.6,85.8 398.9,86.7 398.2,87.9 C397.5,89.1 396.7,90.8 396.2,92.0 C395.7,93.2 394.4,94.1 395.1,95.1 C395.8,96.1 399.8,96.7 400.3,98.2 C400.8,99.8 397.9,102.7 398.2,104.4 C398.5,106.1 400.6,107.1 402.3,108.5 C404.0,109.9 407.5,110.9 408.5,112.6 C409.5,114.3 408.1,117.3 408.5,118.8 C408.9,120.3 410.4,120.8 410.6,121.5 C410.8,122.2 410.5,122.5 409.5,123.1 C408.5,123.7 404.9,124.1 404.4,125.1 C403.9,126.1 406.9,127.8 406.4,129.3 C405.9,130.9 401.8,132.9 401.3,134.4 C400.8,135.9 403.6,137.0 403.4,138.5 C403.2,140.0 400.1,141.7 400.3,143.6 C400.5,145.5 404.4,147.7 404.4,149.8 C404.4,151.9 401.2,153.9 400.3,156.0 C399.4,158.1 400.4,160.7 399.2,162.2 C398.0,163.7 395.2,164.3 393.1,165.2 C391.1,166.1 386.9,166.7 386.9,167.7 C386.9,168.7 391.4,170.3 393.1,171.4 C394.8,172.5 397.0,173.1 397.2,174.5 C397.4,175.9 395.0,177.7 394.1,179.6 C393.2,181.5 392.0,183.9 392.0,185.8 C392.0,187.7 394.1,189.3 394.1,191.2 C394.1,193.1 391.8,194.9 392.0,197.3 C392.2,199.7 394.8,203.4 395.1,205.6 C395.5,207.8 395.5,209.3 394.1,210.7 C392.7,212.1 388.4,212.6 386.9,213.8 C385.3,215.0 384.8,216.2 384.8,217.9 C384.8,219.6 385.9,222.1 386.9,224.1 C387.9,226.1 389.4,228.1 391.0,230.2 C392.6,232.2 395.7,234.7 396.2,236.4 C396.7,238.1 393.8,238.9 394.1,240.5 C394.4,242.1 398.6,244.0 398.2,245.7 C397.8,247.4 392.5,249.1 392.0,250.8 C391.5,252.6 395.3,253.9 395.1,256.2 C394.9,258.5 391.9,261.0 391.0,264.4 C390.1,267.8 389.5,273.6 390.0,276.7 C390.5,279.8 394.6,280.8 394.1,282.9 C393.6,285.0 388.1,286.7 386.9,289.1 C385.7,291.5 386.4,294.6 386.9,297.3 C387.4,300.0 389.3,303.3 390.0,305.5 C390.7,307.7 391.3,309.0 391.0,310.7 C390.7,312.4 388.5,314.9 388.0,315.8" fill="none" stroke="#f39a3c" stroke-width="1.3" stroke-linejoin="round"/>
<path d="M456.7,55.0 C457.2,55.5 458.6,56.7 459.8,58.1 C461.0,59.5 463.7,61.5 463.9,63.2 C464.1,64.9 460.3,67.0 460.8,68.4 C461.3,69.8 466.5,70.3 467.0,71.5 C467.5,72.7 464.4,73.9 463.9,75.6 C463.4,77.3 464.1,80.1 463.9,81.8 C463.7,83.5 462.5,84.4 462.8,85.9 C463.1,87.4 465.4,89.5 465.9,91.0 C466.4,92.5 465.2,93.7 465.9,95.1 C466.6,96.5 468.4,97.7 470.0,99.2 C471.6,100.8 474.5,102.7 475.2,104.4 C475.9,106.1 475.6,108.1 474.2,109.5 C472.8,110.9 468.9,111.4 467.0,112.6 C465.1,113.8 463.2,114.8 462.8,116.7 C462.4,118.6 464.2,122.4 464.9,124.0 C465.6,125.6 465.6,125.0 467.0,126.2 C468.4,127.4 472.2,129.6 473.1,131.3 C474.0,133.0 471.9,134.3 472.1,136.5 C472.3,138.7 475.2,142.5 474.2,144.7 C473.2,146.9 467.4,148.2 465.9,149.8 C464.3,151.4 463.3,152.4 464.9,154.0 C466.4,155.6 474.5,157.4 475.2,159.1 C475.9,160.8 468.8,162.3 469.0,164.2 C469.2,166.1 476.2,168.7 476.2,170.4 C476.2,172.1 469.3,172.9 469.0,174.5 C468.7,176.1 471.6,178.0 474.2,179.7 C476.8,181.4 483.8,183.5 484.5,184.8 C485.2,186.2 479.9,186.4 478.3,187.8 C476.8,189.2 475.4,191.4 475.2,193.2 C475.0,195.0 477.7,196.3 477.2,198.4 C476.7,200.5 472.8,203.7 472.1,205.6 C471.4,207.5 471.4,208.2 473.1,209.7 C474.8,211.2 481.4,212.9 482.4,214.8 C483.4,216.7 479.8,219.4 479.3,221.0 C478.8,222.6 480.2,222.2 479.3,224.1 C478.4,226.0 474.6,229.6 474.2,232.3 C473.8,235.1 476.5,238.2 477.2,240.6 C477.9,243.0 477.8,244.6 478.3,246.7 C478.8,248.8 480.5,251.3 480.3,252.9 C480.1,254.5 478.2,254.1 477.2,256.0 C476.2,257.9 473.3,262.3 474.2,264.4 C475.1,266.5 480.2,267.1 482.4,268.5 C484.6,269.9 487.7,271.1 487.5,272.6 C487.3,274.2 482.8,275.7 481.4,277.8 C480.0,279.9 480.0,283.3 479.3,285.0 C478.6,286.7 477.2,286.7 477.2,288.1 C477.2,289.5 479.6,291.3 479.3,293.2 C479.0,295.1 475.0,297.5 475.2,299.4 C475.4,301.3 480.0,302.8 480.3,304.5 C480.6,306.2 477.7,307.8 477.2,309.7 C476.7,311.6 477.2,314.9 477.2,315.9" fill="none" stroke="#f39a3c" stroke-width="1.3" stroke-linejoin="round"/>
<path d="M450.5,55.0 C451.5,55.5 455.1,56.9 456.7,58.1 C458.2,59.3 459.5,60.5 459.8,62.2 C460.1,63.9 458.5,66.7 458.7,68.4 C458.9,70.1 460.4,70.6 460.8,72.5 C461.2,74.4 460.5,77.5 460.8,79.7 C461.1,81.9 462.1,83.7 462.8,85.9 C463.5,88.1 464.2,91.0 464.9,93.1 C465.6,95.1 466.3,96.3 467.0,98.2 C467.7,100.1 468.8,102.5 469.0,104.4 C469.2,106.3 468.7,108.0 468.0,109.5 C467.3,111.0 465.4,112.2 464.9,113.7 C464.4,115.2 464.9,117.1 464.9,118.8 C464.9,120.5 464.7,122.4 464.9,124.0 C465.1,125.6 465.2,126.1 465.9,128.2 C466.6,130.3 469.0,133.4 469.0,136.5 C469.0,139.6 467.1,144.1 465.9,146.8 C464.7,149.5 462.1,150.9 461.8,152.9 C461.5,154.9 463.2,157.0 463.9,159.1 C464.6,161.2 465.4,162.9 465.9,165.3 C466.4,167.7 466.1,170.8 467.0,173.5 C467.9,176.2 469.9,179.3 471.1,181.7 C472.3,184.1 473.9,186.0 474.2,187.9 C474.5,189.8 473.8,190.2 473.1,193.2 C472.4,196.1 469.8,202.2 470.0,205.6 C470.2,209.0 473.3,211.1 474.2,213.8 C475.1,216.5 475.5,218.6 475.2,222.0 C474.9,225.4 472.1,230.6 472.1,234.4 C472.1,238.2 474.7,241.8 475.2,244.7 C475.7,247.6 475.5,249.8 475.2,252.0 C474.9,254.2 473.8,256.0 473.1,258.2 C472.4,260.4 470.4,263.3 471.1,265.4 C471.8,267.5 476.2,268.0 477.2,270.6 C478.2,273.2 477.7,278.0 477.2,280.9 C476.7,283.8 474.5,286.1 474.2,288.1 C473.9,290.2 475.4,291.3 475.2,293.2 C475.0,295.1 473.1,297.3 473.1,299.4 C473.1,301.5 475.0,303.9 475.2,305.6 C475.4,307.3 474.2,308.0 474.2,309.7 C474.2,311.4 475.0,314.9 475.2,315.9" fill="none" stroke="#e4449c" stroke-width="1.3" stroke-linejoin="round"/>
<path d="M559.4,55.0 C560.2,55.7 563.0,57.6 564.5,59.1 C566.0,60.6 567.4,62.4 568.6,64.3 C569.8,66.2 571.5,68.5 571.7,70.4 C571.9,72.3 569.4,73.7 569.6,75.6 C569.8,77.5 572.7,80.0 572.7,81.7 C572.7,83.4 571.0,84.4 569.6,85.8 C568.2,87.2 565.4,88.8 564.5,90.0 C563.6,91.2 563.8,92.0 564.5,93.0 C565.2,94.0 567.8,94.5 568.6,96.1 C569.5,97.6 569.9,100.4 569.6,102.3 C569.3,104.2 566.2,105.7 566.6,107.4 C567.0,109.1 570.9,111.0 571.7,112.6 C572.6,114.1 572.9,115.5 571.7,116.7 C570.5,117.9 565.5,118.8 564.5,119.8 C563.5,120.8 565.0,121.8 565.5,123.0 C566.0,124.2 567.8,125.7 567.6,127.2 C567.4,128.8 564.0,130.2 564.5,132.3 C565.0,134.4 570.4,137.4 570.7,139.5 C571.1,141.6 566.4,142.8 566.6,144.7 C566.8,146.6 571.5,148.8 571.7,150.8 C571.9,152.9 568.0,154.9 567.6,157.0 C567.2,159.1 569.8,161.5 569.6,163.2 C569.4,164.9 565.6,165.8 566.6,167.3 C567.6,168.8 575.5,170.2 575.8,172.4 C576.1,174.6 568.6,178.5 568.6,180.7 C568.6,182.9 575.1,184.2 575.8,185.8 C576.5,187.4 572.5,187.8 572.7,190.1 C572.9,192.4 575.2,196.1 576.8,199.4 C578.3,202.7 582.7,207.0 582.0,209.7 C581.3,212.4 573.9,213.8 572.7,215.8 C571.5,217.9 575.0,220.1 574.8,222.0 C574.6,223.9 570.9,224.6 571.7,227.2 C572.6,229.8 579.0,234.5 579.9,237.4 C580.8,240.3 577.0,242.2 576.8,244.6 C576.6,247.0 578.4,250.4 578.9,252.0 C579.4,253.6 579.9,252.7 579.9,254.1 C579.9,255.5 578.4,257.6 578.9,260.3 C579.4,263.1 582.8,267.9 583.0,270.6 C583.2,273.3 580.2,274.3 579.9,276.7 C579.6,279.1 581.3,282.2 581.0,285.0 C580.7,287.8 578.1,291.0 577.9,293.2 C577.7,295.4 579.9,296.2 579.9,298.3 C579.9,300.4 577.9,303.9 577.9,305.5 C577.9,307.1 579.9,305.9 579.9,307.6 C579.9,309.3 578.2,314.4 577.9,315.8" fill="none" stroke="#35aee5" stroke-width="1.3" stroke-linejoin="round"/>
<path d="M552.2,55.0 C553.6,55.7 558.4,57.4 560.4,59.1 C562.4,60.8 563.6,62.9 564.5,65.3 C565.4,67.7 565.5,70.8 565.9,73.5 C566.2,76.2 566.7,79.0 566.6,81.7 C566.5,84.5 565.9,87.2 565.5,90.0 C565.1,92.8 565.0,95.5 564.5,98.2 C564.0,100.9 562.4,103.7 562.4,106.4 C562.4,109.1 564.5,112.2 564.5,114.6 C564.5,117.0 562.8,118.2 562.4,120.8 C562.0,123.4 562.0,127.4 562.4,130.3 C562.8,133.2 564.1,135.4 564.5,138.5 C564.9,141.6 564.3,145.4 564.5,148.8 C564.7,152.2 565.5,156.0 565.5,159.1 C565.5,162.2 564.0,164.9 564.5,167.3 C565.0,169.7 567.9,171.1 568.6,173.5 C569.3,175.9 568.1,179.0 568.6,181.7 C569.1,184.4 571.2,188.0 571.7,189.9 C572.2,191.8 571.5,190.7 571.7,193.0 C571.9,195.3 571.9,200.6 572.7,203.5 C573.6,206.4 577.0,208.8 576.8,210.7 C576.6,212.6 572.9,212.9 571.7,214.8 C570.5,216.7 569.6,219.4 569.6,222.0 C569.6,224.6 570.7,227.8 571.7,230.2 C572.7,232.6 575.2,233.7 575.8,236.4 C576.4,239.2 575.6,243.6 575.4,246.7 C575.2,249.8 574.7,252.6 574.8,254.9 C574.9,257.2 575.3,257.7 575.8,260.3 C576.3,262.9 577.7,266.8 577.9,270.6 C578.1,274.4 577.3,278.4 576.8,282.9 C576.3,287.3 575.2,291.8 574.8,297.3 C574.4,302.8 574.3,312.7 574.2,315.8" fill="none" stroke="#e4449c" stroke-width="1.3" stroke-linejoin="round"/>
<path d="M634.7,55.0 C634.8,56.0 634.5,59.3 635.3,61.2 C636.1,63.1 639.2,64.6 639.4,66.3 C639.6,68.0 637.5,70.0 636.3,71.5 C635.1,73.0 633.2,74.1 632.2,75.6 C631.2,77.1 629.9,79.0 630.1,80.7 C630.3,82.4 633.0,84.1 633.2,85.8 C633.4,87.5 631.5,88.2 631.2,91.0 C630.9,93.8 630.4,99.7 631.2,102.3 C632.1,104.9 636.3,105.2 636.3,106.4 C636.3,107.6 632.6,108.3 631.2,109.5 C629.8,110.7 628.5,112.4 628.1,113.6 C627.8,114.8 627.7,115.5 629.1,116.7 C630.5,117.9 634.1,119.6 636.3,120.8 C638.5,122.0 641.3,123.1 642.5,123.9 C643.7,124.7 644.2,124.4 643.5,125.6 C642.8,126.8 639.8,129.8 638.4,131.3 C637.0,132.8 634.8,132.9 635.3,134.4 C635.8,135.9 640.7,138.9 641.4,140.6 C642.1,142.3 639.6,143.0 639.4,144.7 C639.2,146.4 640.8,148.8 640.4,150.8 C640.0,152.9 638.0,154.6 637.3,157.0 C636.6,159.4 635.9,162.3 636.3,165.2 C636.6,168.1 639.2,172.1 639.4,174.5 C639.6,176.9 637.1,177.7 637.3,179.6 C637.5,181.5 640.4,184.3 640.4,185.8 C640.4,187.3 638.5,187.8 637.3,188.5 C636.1,189.2 634.6,189.3 633.2,190.1 C631.8,190.9 629.4,191.6 629.1,193.2 C628.8,194.8 630.4,197.5 631.2,199.4 C632.1,201.3 632.5,202.3 634.2,204.5 C635.9,206.7 640.2,210.2 641.4,212.8 C642.6,215.4 642.2,217.1 641.4,220.0 C640.5,222.9 636.3,227.1 636.3,230.2 C636.3,233.3 641.8,236.3 641.4,238.5 C641.0,240.7 634.7,242.2 634.2,243.6 C633.7,245.0 637.9,245.3 638.4,246.7 C638.9,248.1 637.1,250.4 637.3,252.0 C637.5,253.6 639.4,254.5 639.4,256.2 C639.4,257.9 638.2,260.2 637.3,262.3 C636.4,264.4 635.7,266.8 634.2,268.5 C632.7,270.2 629.6,271.2 628.1,272.6 C626.6,274.0 624.5,275.3 625.0,276.7 C625.5,278.1 629.2,279.2 631.2,280.8 C633.2,282.4 635.2,284.8 637.3,286.0 C639.3,287.2 643.1,286.8 643.5,288.0 C643.9,289.2 639.6,291.3 639.4,293.2 C639.2,295.1 642.7,297.3 642.5,299.4 C642.3,301.4 639.1,302.8 638.4,305.5 C637.7,308.2 638.4,314.1 638.4,315.8" fill="none" stroke="#35aee5" stroke-width="1.3" stroke-linejoin="round"/>
<path d="M633.2,55.0 C633.6,56.4 634.6,60.8 635.3,63.2 C636.0,65.6 637.6,67.5 637.3,69.4 C636.9,71.3 634.4,72.8 633.2,74.5 C632.0,76.2 630.3,78.0 630.1,79.7 C629.9,81.4 632.0,82.9 632.2,84.8 C632.4,86.7 631.2,89.1 631.2,91.0 C631.2,92.9 632.4,94.2 632.2,96.1 C632.0,98.0 630.3,100.2 630.1,102.3 C629.9,104.4 632.1,106.6 631.2,108.5 C630.4,110.4 626.2,112.2 625.0,113.6 C623.8,115.0 623.7,115.5 624.0,116.7 C624.3,117.9 625.6,119.6 627.0,120.8 C628.4,122.0 631.0,122.2 632.2,124.1 C633.4,126.0 633.2,130.1 634.2,132.3 C635.2,134.5 637.4,135.1 638.4,137.5 C639.4,139.9 640.4,143.8 640.4,146.7 C640.4,149.6 638.7,151.9 638.4,155.0 C638.1,158.1 638.6,162.1 638.4,165.2 C638.2,168.3 637.3,170.8 637.3,173.5 C637.3,176.2 639.3,179.4 638.4,181.7 C637.5,183.9 633.4,185.8 632.0,187.0 C630.6,188.2 631.1,187.9 630.1,189.1 C629.1,190.3 626.0,192.2 626.0,194.3 C626.0,196.4 628.7,199.3 630.1,201.5 C631.5,203.7 632.7,205.5 634.2,207.6 C635.8,209.7 638.5,211.1 639.4,213.8 C640.3,216.6 640.3,221.0 639.4,224.1 C638.5,227.2 634.0,229.9 634.2,232.3 C634.4,234.7 639.9,236.4 640.4,238.5 C640.9,240.6 637.6,242.3 637.3,244.6 C637.0,246.8 637.9,249.7 638.4,252.0 C638.9,254.3 641.1,256.1 640.4,258.2 C639.7,260.3 636.1,262.3 634.2,264.4 C632.3,266.5 630.8,268.6 629.1,270.6 C627.4,272.7 623.8,275.0 624.0,276.7 C624.2,278.4 628.7,279.1 630.1,280.8 C631.5,282.5 631.0,284.6 632.2,287.0 C633.4,289.4 636.3,292.4 637.3,295.2 C638.3,297.9 638.6,301.1 638.4,303.5 C638.2,305.9 636.5,307.6 636.3,309.6 C636.1,311.7 637.1,314.8 637.3,315.8" fill="none" stroke="#e4449c" stroke-width="1.3" stroke-linejoin="round"/>
<line x1="2.4" y1="1" x2="2.4" y2="317" stroke="#505050" stroke-width="1.4"/>
<line x1="28.4" y1="1" x2="28.4" y2="317" stroke="#858585" stroke-width="1.2"/>
<line x1="82.5" y1="1" x2="82.5" y2="317" stroke="#444" stroke-width="1.3"/>
<line x1="130.5" y1="1" x2="130.5" y2="317" stroke="#505050" stroke-width="1.3"/>
<line x1="181.4" y1="1" x2="181.4" y2="317" stroke="#707070" stroke-width="1.2"/>
<line x1="232.4" y1="1" x2="232.4" y2="317" stroke="#555" stroke-width="1.3"/>
<line x1="292.5" y1="1" x2="292.5" y2="317" stroke="#707070" stroke-width="1.2"/>
<line x1="354.5" y1="1" x2="354.5" y2="317" stroke="#555" stroke-width="1.3"/>
<line x1="433.2" y1="1" x2="433.2" y2="317" stroke="#808080" stroke-width="1.4"/>
<line x1="510.7" y1="1" x2="510.7" y2="317" stroke="#8a8a8a" stroke-width="1.4"/>
<line x1="588.6" y1="1" x2="588.6" y2="317" stroke="#505050" stroke-width="1.3"/>
<line x1="667.5" y1="1" x2="667.5" y2="317" stroke="#8a8a8a" stroke-width="1.3"/>
<line x1="1.7" y1="1.5" x2="668.2" y2="1.5" stroke="#606060" stroke-width="1.3"/>
<line x1="1.7" y1="55.5" x2="668.2" y2="55.5" stroke="#333" stroke-width="1.3"/>
<line x1="1.7" y1="316.4" x2="668.2" y2="316.4" stroke="#606060" stroke-width="1.3"/>
<line x1="433.2" y1="14" x2="667.5" y2="14" stroke="#858585" stroke-width="1.6"/>
<line x1="28.4" y1="46.4" x2="82.5" y2="46.4" stroke="#e83a3f" stroke-width="1.2"/>
<line x1="130.5" y1="46.4" x2="181.4" y2="46.4" stroke="#444" stroke-width="1.2"/>
<line x1="181.4" y1="28.8" x2="232.4" y2="28.8" stroke="#35aee5" stroke-width="1.4"/>
<line x1="181.4" y1="46.4" x2="232.4" y2="46.4" stroke="#e83a3f" stroke-width="1.2"/>
<line x1="232.4" y1="12.3" x2="292.5" y2="12.3" stroke="#e4449c" stroke-width="1.2"/>
<line x1="232.4" y1="29.0" x2="292.5" y2="29.0" stroke="#f07a86" stroke-width="1.8"/>
<line x1="232.4" y1="46.4" x2="292.5" y2="46.4" stroke="#3d3f9e" stroke-width="1.3" stroke-dasharray="3.1,2.5" stroke-dashoffset="-0.9"/>
<line x1="292.5" y1="12.4" x2="354.5" y2="12.4" stroke="#e83a3f" stroke-width="1.2"/>
<line x1="292.5" y1="28.8" x2="354.5" y2="28.8" stroke="#7ccaa0" stroke-width="1.6"/>
<line x1="292.5" y1="46.3" x2="354.5" y2="46.3" stroke="#3d3f9e" stroke-width="1.3"/>
<line x1="354.5" y1="28.9" x2="433.2" y2="28.9" stroke="#6cc49a" stroke-width="1.4"/>
<line x1="354.5" y1="46.1" x2="433.2" y2="46.1" stroke="#f39a3c" stroke-width="1.4"/>
<line x1="433.2" y1="29.4" x2="510.7" y2="29.4" stroke="#e4449c" stroke-width="1.4"/>
<line x1="510.7" y1="29.4" x2="588.6" y2="29.4" stroke="#e4449c" stroke-width="1.4"/>
<line x1="588.6" y1="29.4" x2="667.5" y2="29.4" stroke="#e4449c" stroke-width="1.4"/>
<line x1="433.2" y1="46.4" x2="510.7" y2="46.4" stroke="#f39a3c" stroke-width="1.4"/>
<line x1="510.7" y1="45.6" x2="588.6" y2="45.6" stroke="#35aee5" stroke-width="1.4"/>
<line x1="588.6" y1="45.8" x2="667.5" y2="45.8" stroke="#35aee5" stroke-width="1.4"/>
<text x="0" y="0" font-size="7.4" font-weight="bold" fill="#4a4a4a" textLength="25.5" lengthAdjust="spacingAndGlyphs" transform="translate(18.3,52) rotate(-90)">DEPTH/m</text>
<line x1="3.2" y1="73.6" x2="5.6" y2="73.6" stroke="#333" stroke-width="0.8"/>
<text x="5.8" y="75.69999999999999" font-size="6.4" fill="#333" text-anchor="start" font-weight="bold">2918</text>
<line x1="3.2" y1="108.1" x2="5.6" y2="108.1" stroke="#333" stroke-width="0.8"/>
<text x="5.8" y="110.19999999999999" font-size="6.4" fill="#333" text-anchor="start" font-weight="bold">2938</text>
<line x1="3.2" y1="143.9" x2="5.6" y2="143.9" stroke="#333" stroke-width="0.8"/>
<text x="5.8" y="146.0" font-size="6.4" fill="#333" text-anchor="start" font-weight="bold">2958</text>
<line x1="3.2" y1="177.5" x2="5.6" y2="177.5" stroke="#333" stroke-width="0.8"/>
<text x="5.8" y="179.6" font-size="6.4" fill="#333" text-anchor="start" font-weight="bold">2978</text>
<line x1="3.2" y1="212.6" x2="5.6" y2="212.6" stroke="#333" stroke-width="0.8"/>
<text x="5.8" y="214.7" font-size="6.4" fill="#333" text-anchor="start" font-weight="bold">2998</text>
<line x1="3.2" y1="252.3" x2="5.6" y2="252.3" stroke="#333" stroke-width="0.8"/>
<text x="5.8" y="254.4" font-size="6.4" fill="#333" text-anchor="start" font-weight="bold">3018</text>
<line x1="3.2" y1="288" x2="5.6" y2="288" stroke="#333" stroke-width="0.8"/>
<text x="5.8" y="290.1" font-size="6.4" fill="#333" text-anchor="start" font-weight="bold">3038</text>
<text x="48.00" y="44.90" font-size="9" fill="#e83a3f" font-weight="normal" textLength="12.52" lengthAdjust="spacingAndGlyphs" stroke="#e83a3f" stroke-width="0.3">GR</text>
<text x="30.00" y="54.70" font-size="9" fill="#e83a3f" font-weight="normal" stroke="#e83a3f" stroke-width="0.3">0</text>
<text x="47.00" y="54.70" font-size="9" fill="#e83a3f" font-weight="normal" textLength="14.96" lengthAdjust="spacingAndGlyphs" stroke="#e83a3f" stroke-width="0.3">API</text>
<text x="67.00" y="54.70" font-size="9" fill="#e83a3f" font-weight="normal" textLength="13.69" lengthAdjust="spacingAndGlyphs" stroke="#e83a3f" stroke-width="0.3">150</text>
<text x="87.00" y="51.80" font-size="10" fill="#222" font-weight="normal" textLength="39.05" lengthAdjust="spacingAndGlyphs">Lithology</text>
<text x="149.00" y="43.90" font-size="9" fill="#333" font-weight="normal" textLength="7.92" lengthAdjust="spacingAndGlyphs" stroke="#333" stroke-width="0.3">Rt</text>
<text x="131.00" y="54.00" font-size="9" fill="#333" font-weight="normal">1</text>
<text x="140.00" y="53.00" font-size="5.6" fill="#333" font-weight="normal" textLength="19.93" lengthAdjust="spacingAndGlyphs">OHMM</text>
<text x="161.00" y="54.00" font-size="9" fill="#333" font-weight="normal" textLength="20.19" lengthAdjust="spacingAndGlyphs">1000</text>
<text x="195.00" y="26.45" font-size="9" fill="#35aee5" font-weight="bold" textLength="20.20" lengthAdjust="spacingAndGlyphs">DEN</text>
<text x="183.00" y="36.00" font-size="9" fill="#35aee5" font-weight="normal" stroke="#35aee5" stroke-width="0.3">2</text>
<text x="197.50" y="34.15" font-size="6.4" fill="#35aee5" font-weight="normal">g · cm<tspan font-size="4" dy="-2.4">-3</tspan></text>
<text x="228.00" y="36.00" font-size="9" fill="#35aee5" font-weight="normal" stroke="#35aee5" stroke-width="0.3">3</text>
<text x="200.00" y="43.90" font-size="9" fill="#e83a3f" font-weight="bold" textLength="12.90" lengthAdjust="spacingAndGlyphs">DT</text>
<text x="181.00" y="54.00" font-size="9" fill="#e83a3f" font-weight="normal" textLength="14.39" lengthAdjust="spacingAndGlyphs" stroke="#e83a3f" stroke-width="0.3">140</text>
<text x="199.60" y="52.75" font-size="6.4" fill="#e83a3f" font-weight="normal">μs · m<tspan font-size="4" dy="-2.4">-1</tspan></text>
<text x="220.00" y="54.00" font-size="9" fill="#e83a3f" font-weight="normal" textLength="11.59" lengthAdjust="spacingAndGlyphs" stroke="#e83a3f" stroke-width="0.3">40</text>
<text x="236.00" y="11.00" font-size="6.4" fill="#e4449c" font-weight="normal" textLength="53.23" lengthAdjust="spacingAndGlyphs">Minimum diameter</text>
<text x="234.00" y="19.45" font-size="9" fill="#e4449c" font-weight="normal" textLength="13.69" lengthAdjust="spacingAndGlyphs" stroke="#e4449c" stroke-width="0.3">200</text>
<text x="254.00" y="18.65" font-size="9" fill="#e4449c" font-weight="normal" textLength="14.88" lengthAdjust="spacingAndGlyphs" stroke="#e4449c" stroke-width="0.3">mm</text>
<text x="277.00" y="19.45" font-size="9" fill="#e4449c" font-weight="normal" textLength="14.09" lengthAdjust="spacingAndGlyphs" stroke="#e4449c" stroke-width="0.3">300</text>
<text x="241.00" y="26.50" font-size="6.4" fill="#e83a3f" font-weight="normal" textLength="41.52" lengthAdjust="spacingAndGlyphs">Mean diameter</text>
<text x="234.00" y="36.00" font-size="9" fill="#e83a3f" font-weight="normal" textLength="13.69" lengthAdjust="spacingAndGlyphs" stroke="#e83a3f" stroke-width="0.3">200</text>
<text x="255.00" y="35.20" font-size="9" fill="#e83a3f" font-weight="normal" textLength="14.97" lengthAdjust="spacingAndGlyphs" stroke="#e83a3f" stroke-width="0.3">mm</text>
<text x="277.00" y="36.00" font-size="9" fill="#e83a3f" font-weight="normal" textLength="14.29" lengthAdjust="spacingAndGlyphs" stroke="#e83a3f" stroke-width="0.3">300</text>
<text x="236.00" y="45.10" font-size="6.4" fill="#3d3f9e" font-weight="normal" textLength="52.89" lengthAdjust="spacingAndGlyphs">Maximum diameter</text>
<text x="234.00" y="54.45" font-size="9" fill="#3d3f9e" font-weight="normal" textLength="13.69" lengthAdjust="spacingAndGlyphs" stroke="#3d3f9e" stroke-width="0.3">200</text>
<text x="255.00" y="54.65" font-size="9" fill="#3d3f9e" font-weight="normal" textLength="13.97" lengthAdjust="spacingAndGlyphs" stroke="#3d3f9e" stroke-width="0.3">mm</text>
<text x="277.00" y="54.45" font-size="9" fill="#3d3f9e" font-weight="normal" textLength="13.29" lengthAdjust="spacingAndGlyphs" stroke="#3d3f9e" stroke-width="0.3">300</text>
<text x="310.00" y="11.45" font-size="9" fill="#e83a3f" font-weight="normal" textLength="20.22" lengthAdjust="spacingAndGlyphs" stroke="#e83a3f" stroke-width="0.3">RPM</text>
<text x="293.00" y="19.45" font-size="9" fill="#e83a3f" font-weight="normal" textLength="9.39" lengthAdjust="spacingAndGlyphs" stroke="#e83a3f" stroke-width="0.3">50</text>
<text x="312.00" y="17.00" font-size="6.5" fill="#e83a3f" font-weight="normal" textLength="14.66" lengthAdjust="spacingAndGlyphs">r/min</text>
<text x="345.00" y="19.45" font-size="9" fill="#e83a3f" font-weight="normal" textLength="8.99" lengthAdjust="spacingAndGlyphs" stroke="#e83a3f" stroke-width="0.3">70</text>
<text x="303.00" y="25.90" font-size="9" fill="#2fa869" font-weight="bold" textLength="38.74" lengthAdjust="spacingAndGlyphs">TORQUE</text>
<text x="294.00" y="36.60" font-size="9" fill="#2fa869" font-weight="normal" stroke="#2fa869" stroke-width="0.3">8</text>
<text x="311.00" y="34.75" font-size="6.2" fill="#2fa869" font-weight="normal" textLength="21.01" lengthAdjust="spacingAndGlyphs">KN · m</text>
<text x="345.00" y="36.60" font-size="9" fill="#2fa869" font-weight="normal" textLength="7.75" lengthAdjust="spacingAndGlyphs" stroke="#2fa869" stroke-width="0.3">1 5</text>
<text x="311.00" y="45.45" font-size="9" fill="#3d3f9e" font-weight="normal" textLength="21.60" lengthAdjust="spacingAndGlyphs" stroke="#3d3f9e" stroke-width="0.3">WOB</text>
<text x="293.00" y="53.90" font-size="9" fill="#3d3f9e" font-weight="normal" textLength="8.99" lengthAdjust="spacingAndGlyphs" stroke="#3d3f9e" stroke-width="0.3">70</text>
<text x="316.00" y="53.90" font-size="9" fill="#3d3f9e" font-weight="normal" textLength="12.72" lengthAdjust="spacingAndGlyphs" stroke="#3d3f9e" stroke-width="0.3">KN</text>
<text x="338.00" y="53.90" font-size="9" fill="#3d3f9e" font-weight="normal" textLength="15.69" lengthAdjust="spacingAndGlyphs" stroke="#3d3f9e" stroke-width="0.3">150</text>
<text x="367.00" y="24.25" font-size="10" fill="#2fa869" font-weight="normal" textLength="57.00" lengthAdjust="spacingAndGlyphs">Vertical stress</text>
<text x="355.00" y="36.35" font-size="9" fill="#2fa869" font-weight="normal" textLength="8.99" lengthAdjust="spacingAndGlyphs" stroke="#2fa869" stroke-width="0.3">40</text>
<text x="382.00" y="35.65" font-size="6.6" fill="#2fa869" font-weight="bold" textLength="14.96" lengthAdjust="spacingAndGlyphs">MPa</text>
<text x="424.00" y="36.35" font-size="9" fill="#2fa869" font-weight="normal" textLength="7.79" lengthAdjust="spacingAndGlyphs" stroke="#2fa869" stroke-width="0.3">70</text>
<text x="381.00" y="44.70" font-size="9" fill="#f39a3c" font-weight="normal" textLength="17.72" lengthAdjust="spacingAndGlyphs" stroke="#f39a3c" stroke-width="0.3">ROP</text>
<text x="355.00" y="54.35" font-size="9" fill="#f39a3c" font-weight="normal" stroke="#f39a3c" stroke-width="0.3">0</text>
<text x="382.00" y="54.35" font-size="8" fill="#f39a3c" font-weight="normal" textLength="15.35" lengthAdjust="spacingAndGlyphs" stroke="#f39a3c" stroke-width="0.3">m/h</text>
<text x="428.00" y="54.35" font-size="9" fill="#f39a3c" font-weight="normal" stroke="#f39a3c" stroke-width="0.3">8</text>
<text x="434.00" y="8.65" font-size="6.8" fill="#222" font-weight="normal" textLength="73.05" lengthAdjust="spacingAndGlyphs">Minimum horizontal stress</text>
<text x="449.00" y="20.10" font-size="6.8" fill="#e4449c" font-weight="normal" textLength="44.92" lengthAdjust="spacingAndGlyphs" stroke="#e4449c" stroke-width="0.22">Calculation with</text>
<text x="449.00" y="26.50" font-size="6.8" fill="#e4449c" font-weight="normal" textLength="38.93" lengthAdjust="spacingAndGlyphs" stroke="#e4449c" stroke-width="0.22">logging model</text>
<text x="434.00" y="36.35" font-size="9" fill="#e4449c" font-weight="normal" textLength="9.19" lengthAdjust="spacingAndGlyphs" stroke="#e4449c" stroke-width="0.3">40</text>
<text x="463.00" y="35.95" font-size="7.4" fill="#e4449c" font-weight="normal" textLength="15.19" lengthAdjust="spacingAndGlyphs" stroke="#e4449c" stroke-width="0.22">MPa</text>
<text x="501.00" y="36.35" font-size="9" fill="#e4449c" font-weight="normal" textLength="9.19" lengthAdjust="spacingAndGlyphs" stroke="#e4449c" stroke-width="0.3">70</text>
<text x="435.00" y="43.65" font-size="7" fill="#f39a3c" font-weight="normal" textLength="73.93" lengthAdjust="spacingAndGlyphs" stroke="#f39a3c" stroke-width="0.22">Calculation with new model</text>
<text x="434.00" y="53.15" font-size="9" fill="#f39a3c" font-weight="normal" textLength="9.19" lengthAdjust="spacingAndGlyphs" stroke="#f39a3c" stroke-width="0.3">40</text>
<text x="464.00" y="53.85" font-size="7.4" fill="#f39a3c" font-weight="normal" textLength="14.29" lengthAdjust="spacingAndGlyphs" stroke="#f39a3c" stroke-width="0.22">MPa</text>
<text x="501.00" y="53.15" font-size="9" fill="#f39a3c" font-weight="normal" textLength="9.59" lengthAdjust="spacingAndGlyphs" stroke="#f39a3c" stroke-width="0.3">70</text>
<text x="513.00" y="8.65" font-size="6.8" fill="#222" font-weight="normal" textLength="73.89" lengthAdjust="spacingAndGlyphs">Maximum horizontal stress</text>
<text x="526.00" y="20.10" font-size="6.8" fill="#e4449c" font-weight="normal" textLength="45.12" lengthAdjust="spacingAndGlyphs" stroke="#e4449c" stroke-width="0.22">Calculation with</text>
<text x="526.00" y="26.50" font-size="6.8" fill="#e4449c" font-weight="normal" textLength="39.73" lengthAdjust="spacingAndGlyphs" stroke="#e4449c" stroke-width="0.22">logging model</text>
<text x="511.00" y="36.35" font-size="9" fill="#e4449c" font-weight="normal" textLength="9.09" lengthAdjust="spacingAndGlyphs" stroke="#e4449c" stroke-width="0.3">40</text>
<text x="544.00" y="34.95" font-size="7.4" fill="#e4449c" font-weight="normal" textLength="14.09" lengthAdjust="spacingAndGlyphs" stroke="#e4449c" stroke-width="0.22">MPa</text>
<text x="579.00" y="36.35" font-size="9" fill="#e4449c" font-weight="normal" textLength="8.39" lengthAdjust="spacingAndGlyphs" stroke="#e4449c" stroke-width="0.3">70</text>
<text x="511.00" y="44.20" font-size="7" fill="#35aee5" font-weight="normal" textLength="76.12" lengthAdjust="spacingAndGlyphs" stroke="#35aee5" stroke-width="0.22">Calculation with new model</text>
<text x="511.00" y="53.15" font-size="9" fill="#35aee5" font-weight="normal" textLength="9.09" lengthAdjust="spacingAndGlyphs" stroke="#35aee5" stroke-width="0.3">40</text>
<text x="543.00" y="52.85" font-size="7.4" fill="#35aee5" font-weight="normal" textLength="15.09" lengthAdjust="spacingAndGlyphs" stroke="#35aee5" stroke-width="0.22">MPa</text>
<text x="578.00" y="53.15" font-size="9" fill="#35aee5" font-weight="normal" textLength="9.39" lengthAdjust="spacingAndGlyphs" stroke="#35aee5" stroke-width="0.3">70</text>
<text x="597.00" y="11.15" font-size="10" fill="#4a4a4a" font-weight="normal" textLength="63.81" lengthAdjust="spacingAndGlyphs" stroke="#4a4a4a" stroke-width="0.22">Elastic modulus</text>
<text x="608.00" y="20.10" font-size="6.8" fill="#e4449c" font-weight="normal" textLength="44.72" lengthAdjust="spacingAndGlyphs" stroke="#e4449c" stroke-width="0.22">Calculation with</text>
<text x="608.00" y="26.50" font-size="6.8" fill="#e4449c" font-weight="normal" textLength="38.93" lengthAdjust="spacingAndGlyphs" stroke="#e4449c" stroke-width="0.22">logging model</text>
<text x="591.00" y="37.35" font-size="9" fill="#e4449c" font-weight="normal" stroke="#e4449c" stroke-width="0.3">5</text>
<text x="621.00" y="37.25" font-size="7.6" fill="#e4449c" font-weight="normal" textLength="13.78" lengthAdjust="spacingAndGlyphs" stroke="#e4449c" stroke-width="0.22">GPa</text>
<text x="656.00" y="37.35" font-size="9" fill="#e4449c" font-weight="normal" textLength="9.19" lengthAdjust="spacingAndGlyphs" stroke="#e4449c" stroke-width="0.3">30</text>
<text x="591.00" y="44.65" font-size="7" fill="#35aee5" font-weight="normal" textLength="74.72" lengthAdjust="spacingAndGlyphs" stroke="#35aee5" stroke-width="0.22">Calculation with new model</text>
<text x="590.00" y="52.90" font-size="9" fill="#35aee5" font-weight="normal" stroke="#35aee5" stroke-width="0.3">5</text>
<text x="620.00" y="53.80" font-size="7.6" fill="#35aee5" font-weight="normal" textLength="14.78" lengthAdjust="spacingAndGlyphs" stroke="#35aee5" stroke-width="0.22">GPa</text>
<text x="656.00" y="53.90" font-size="9" fill="#35aee5" font-weight="normal" textLength="9.19" lengthAdjust="spacingAndGlyphs" stroke="#35aee5" stroke-width="0.3">30</text>
<rect x="3.2" y="322.3" width="29.500000000000004" height="15.599999999999966" fill="#fff100" stroke="#5a5200" stroke-width="1.0"/>
<line x1="3.2" y1="330.1" x2="32.7" y2="330.1" stroke="#857800" stroke-width="1.2"/>
<rect x="7.6" y="325.6" width="1.1" height="1.2" fill="#6b6200"/>
<rect x="9.4" y="325.6" width="1.1" height="1.2" fill="#6b6200"/>
<rect x="17.9" y="325.6" width="1.1" height="1.2" fill="#6b6200"/>
<rect x="19.7" y="325.6" width="1.1" height="1.2" fill="#6b6200"/>
<rect x="26.8" y="325.6" width="1.1" height="1.2" fill="#6b6200"/>
<rect x="28.6" y="325.6" width="1.1" height="1.2" fill="#6b6200"/>
<rect x="7.6" y="333.4" width="1.1" height="1.2" fill="#6b6200"/>
<rect x="9.4" y="333.4" width="1.1" height="1.2" fill="#6b6200"/>
<rect x="17.9" y="333.4" width="1.1" height="1.2" fill="#6b6200"/>
<rect x="19.7" y="333.4" width="1.1" height="1.2" fill="#6b6200"/>
<rect x="26.8" y="333.4" width="1.1" height="1.2" fill="#6b6200"/>
<rect x="28.6" y="333.4" width="1.1" height="1.2" fill="#6b6200"/>
<rect x="62.4" y="322.3" width="30.000000000000007" height="15.599999999999966" fill="#fff100" stroke="#5a5200" stroke-width="1.0"/>
<line x1="62.4" y1="330.1" x2="92.4" y2="330.1" stroke="#857800" stroke-width="1.2"/>
<rect x="64.5" y="325.8" width="3" height="0.8" fill="#8a7d00"/>
<rect x="70.5" y="325.8" width="3" height="0.8" fill="#8a7d00"/>
<rect x="77.4" y="325.6" width="1.1" height="1.2" fill="#6b6200"/>
<rect x="79.2" y="325.6" width="1.1" height="1.2" fill="#6b6200"/>
<rect x="86.4" y="325.6" width="1.1" height="1.2" fill="#6b6200"/>
<rect x="88.2" y="325.6" width="1.1" height="1.2" fill="#6b6200"/>
<rect x="64.5" y="333.6" width="3" height="0.8" fill="#8a7d00"/>
<rect x="70.5" y="333.6" width="3" height="0.8" fill="#8a7d00"/>
<rect x="77.4" y="333.4" width="1.1" height="1.2" fill="#6b6200"/>
<rect x="79.2" y="333.4" width="1.1" height="1.2" fill="#6b6200"/>
<rect x="86.4" y="333.4" width="1.1" height="1.2" fill="#6b6200"/>
<rect x="88.2" y="333.4" width="1.1" height="1.2" fill="#6b6200"/>
<rect x="155" y="322.3" width="30" height="15.599999999999966" fill="#8d8d8d" stroke="#3a3a3a" stroke-width="0.8"/>
<line x1="155" y1="330.1" x2="185" y2="330.1" stroke="#3a3a3a" stroke-width="0.8"/>
<line x1="158.6" y1="322.3" x2="158.6" y2="330.1" stroke="#333" stroke-width="0.7"/>
<line x1="163.4" y1="322.3" x2="163.4" y2="330.1" stroke="#333" stroke-width="0.7"/>
<rect x="169.7" y="325.8" width="3.6" height="0.9" fill="#3a3a3a"/>
<rect x="177.2" y="325.8" width="3.6" height="0.9" fill="#3a3a3a"/>
<line x1="158.6" y1="330.1" x2="158.6" y2="337.9" stroke="#333" stroke-width="0.7"/>
<line x1="163.4" y1="330.1" x2="163.4" y2="337.9" stroke="#333" stroke-width="0.7"/>
<rect x="169.7" y="333.6" width="3.6" height="0.9" fill="#3a3a3a"/>
<rect x="177.2" y="333.6" width="3.6" height="0.9" fill="#3a3a3a"/>
<rect x="229.3" y="322.3" width="30.5" height="15.599999999999966" fill="#8d8d8d" stroke="#3a3a3a" stroke-width="0.8"/>
<line x1="229.3" y1="330.1" x2="259.8" y2="330.1" stroke="#3a3a3a" stroke-width="0.8"/>
<line x1="234.9" y1="322.3" x2="232.9" y2="330.1" stroke="#333" stroke-width="0.7"/>
<line x1="239.5" y1="322.3" x2="237.5" y2="330.1" stroke="#333" stroke-width="0.7"/>
<rect x="244.3" y="325.8" width="3.6" height="0.9" fill="#3a3a3a"/>
<rect x="251.9" y="325.8" width="3.6" height="0.9" fill="#3a3a3a"/>
<line x1="234.9" y1="330.1" x2="232.9" y2="337.9" stroke="#333" stroke-width="0.7"/>
<line x1="239.5" y1="330.1" x2="237.5" y2="337.9" stroke="#333" stroke-width="0.7"/>
<rect x="244.3" y="333.6" width="3.6" height="0.9" fill="#3a3a3a"/>
<rect x="251.9" y="333.6" width="3.6" height="0.9" fill="#3a3a3a"/>
<rect x="316.9" y="322.3" width="30.5" height="15.599999999999966" fill="#0f9fe3" stroke="#1a4a66" stroke-width="0.8"/>
<line x1="316.9" y1="330.1" x2="347.4" y2="330.1" stroke="#1a4a66" stroke-width="0.8"/>
<line x1="321.9" y1="322.3" x2="321.9" y2="330.1" stroke="#174a6a" stroke-width="0.8"/>
<line x1="328.9" y1="322.3" x2="328.9" y2="330.1" stroke="#174a6a" stroke-width="0.8"/>
<line x1="335.9" y1="322.3" x2="335.9" y2="330.1" stroke="#174a6a" stroke-width="0.8"/>
<line x1="342.9" y1="322.3" x2="342.9" y2="330.1" stroke="#174a6a" stroke-width="0.8"/>
<line x1="324.9" y1="330.1" x2="324.9" y2="337.9" stroke="#174a6a" stroke-width="0.8"/>
<line x1="331.9" y1="330.1" x2="331.9" y2="337.9" stroke="#174a6a" stroke-width="0.8"/>
<line x1="338.9" y1="330.1" x2="338.9" y2="337.9" stroke="#174a6a" stroke-width="0.8"/>
<line x1="345.9" y1="330.1" x2="345.9" y2="337.9" stroke="#174a6a" stroke-width="0.8"/>
<rect x="378" y="322.3" width="30.5" height="15.599999999999966" fill="#0f9fe3" stroke="#1a4a66" stroke-width="0.8"/>
<line x1="378" y1="330.1" x2="408.5" y2="330.1" stroke="#1a4a66" stroke-width="0.8"/>
<line x1="382.0" y1="322.3" x2="379.5" y2="330.1" stroke="#174a6a" stroke-width="0.8"/>
<line x1="387.3" y1="322.3" x2="384.8" y2="330.1" stroke="#174a6a" stroke-width="0.8"/>
<line x1="392.6" y1="322.3" x2="390.1" y2="330.1" stroke="#174a6a" stroke-width="0.8"/>
<line x1="397.9" y1="322.3" x2="395.4" y2="330.1" stroke="#174a6a" stroke-width="0.8"/>
<line x1="403.2" y1="322.3" x2="400.7" y2="330.1" stroke="#174a6a" stroke-width="0.8"/>
<line x1="408.5" y1="322.3" x2="406.0" y2="330.1" stroke="#174a6a" stroke-width="0.8"/>
<line x1="384.0" y1="330.1" x2="381.5" y2="337.9" stroke="#174a6a" stroke-width="0.8"/>
<line x1="389.3" y1="330.1" x2="386.8" y2="337.9" stroke="#174a6a" stroke-width="0.8"/>
<line x1="394.6" y1="330.1" x2="392.1" y2="337.9" stroke="#174a6a" stroke-width="0.8"/>
<line x1="399.9" y1="330.1" x2="397.4" y2="337.9" stroke="#174a6a" stroke-width="0.8"/>
<line x1="405.2" y1="330.1" x2="402.7" y2="337.9" stroke="#174a6a" stroke-width="0.8"/>
<rect x="437.2" y="322.3" width="30.80000000000001" height="15.599999999999966" fill="#5a5655" stroke="#3a3636" stroke-width="0.8"/>
<line x1="437.2" y1="326.2" x2="468" y2="326.2" stroke="#8a8686" stroke-width="0.7"/>
<line x1="437.2" y1="330.1" x2="468" y2="330.1" stroke="#8a8686" stroke-width="0.7"/>
<line x1="437.2" y1="334.0" x2="468" y2="334.0" stroke="#8a8686" stroke-width="0.7"/>
<text x="34.00" y="331.85" font-size="7" fill="#222" font-weight="normal" textLength="23.92" lengthAdjust="spacingAndGlyphs" stroke="#333" stroke-width="0.1">Siltstone</text>
<text x="94.00" y="332.25" font-size="7" fill="#222" font-weight="normal" textLength="57.43" lengthAdjust="spacingAndGlyphs" stroke="#333" stroke-width="0.1">Argillaceous siltstone</text>
<text x="187.00" y="332.25" font-size="7" fill="#222" font-weight="normal" textLength="41.06" lengthAdjust="spacingAndGlyphs" stroke="#333" stroke-width="0.1">Limy claystone</text>
<text x="261.00" y="332.25" font-size="7" fill="#222" font-weight="normal" textLength="54.88" lengthAdjust="spacingAndGlyphs" stroke="#333" stroke-width="0.1">Dolomitic claystone</text>
<text x="348.00" y="331.85" font-size="7" fill="#222" font-weight="normal" textLength="28.96" lengthAdjust="spacingAndGlyphs" stroke="#333" stroke-width="0.1">Limestone</text>
<text x="410.00" y="331.85" font-size="7" fill="#222" font-weight="normal" textLength="24.55" lengthAdjust="spacingAndGlyphs" stroke="#333" stroke-width="0.1">Dolomite</text>
<text x="469.00" y="332.40" font-size="7" fill="#222" font-weight="normal" textLength="27.16" lengthAdjust="spacingAndGlyphs" stroke="#333" stroke-width="0.1">Mud shale</text>
</svg>
</body></html>
